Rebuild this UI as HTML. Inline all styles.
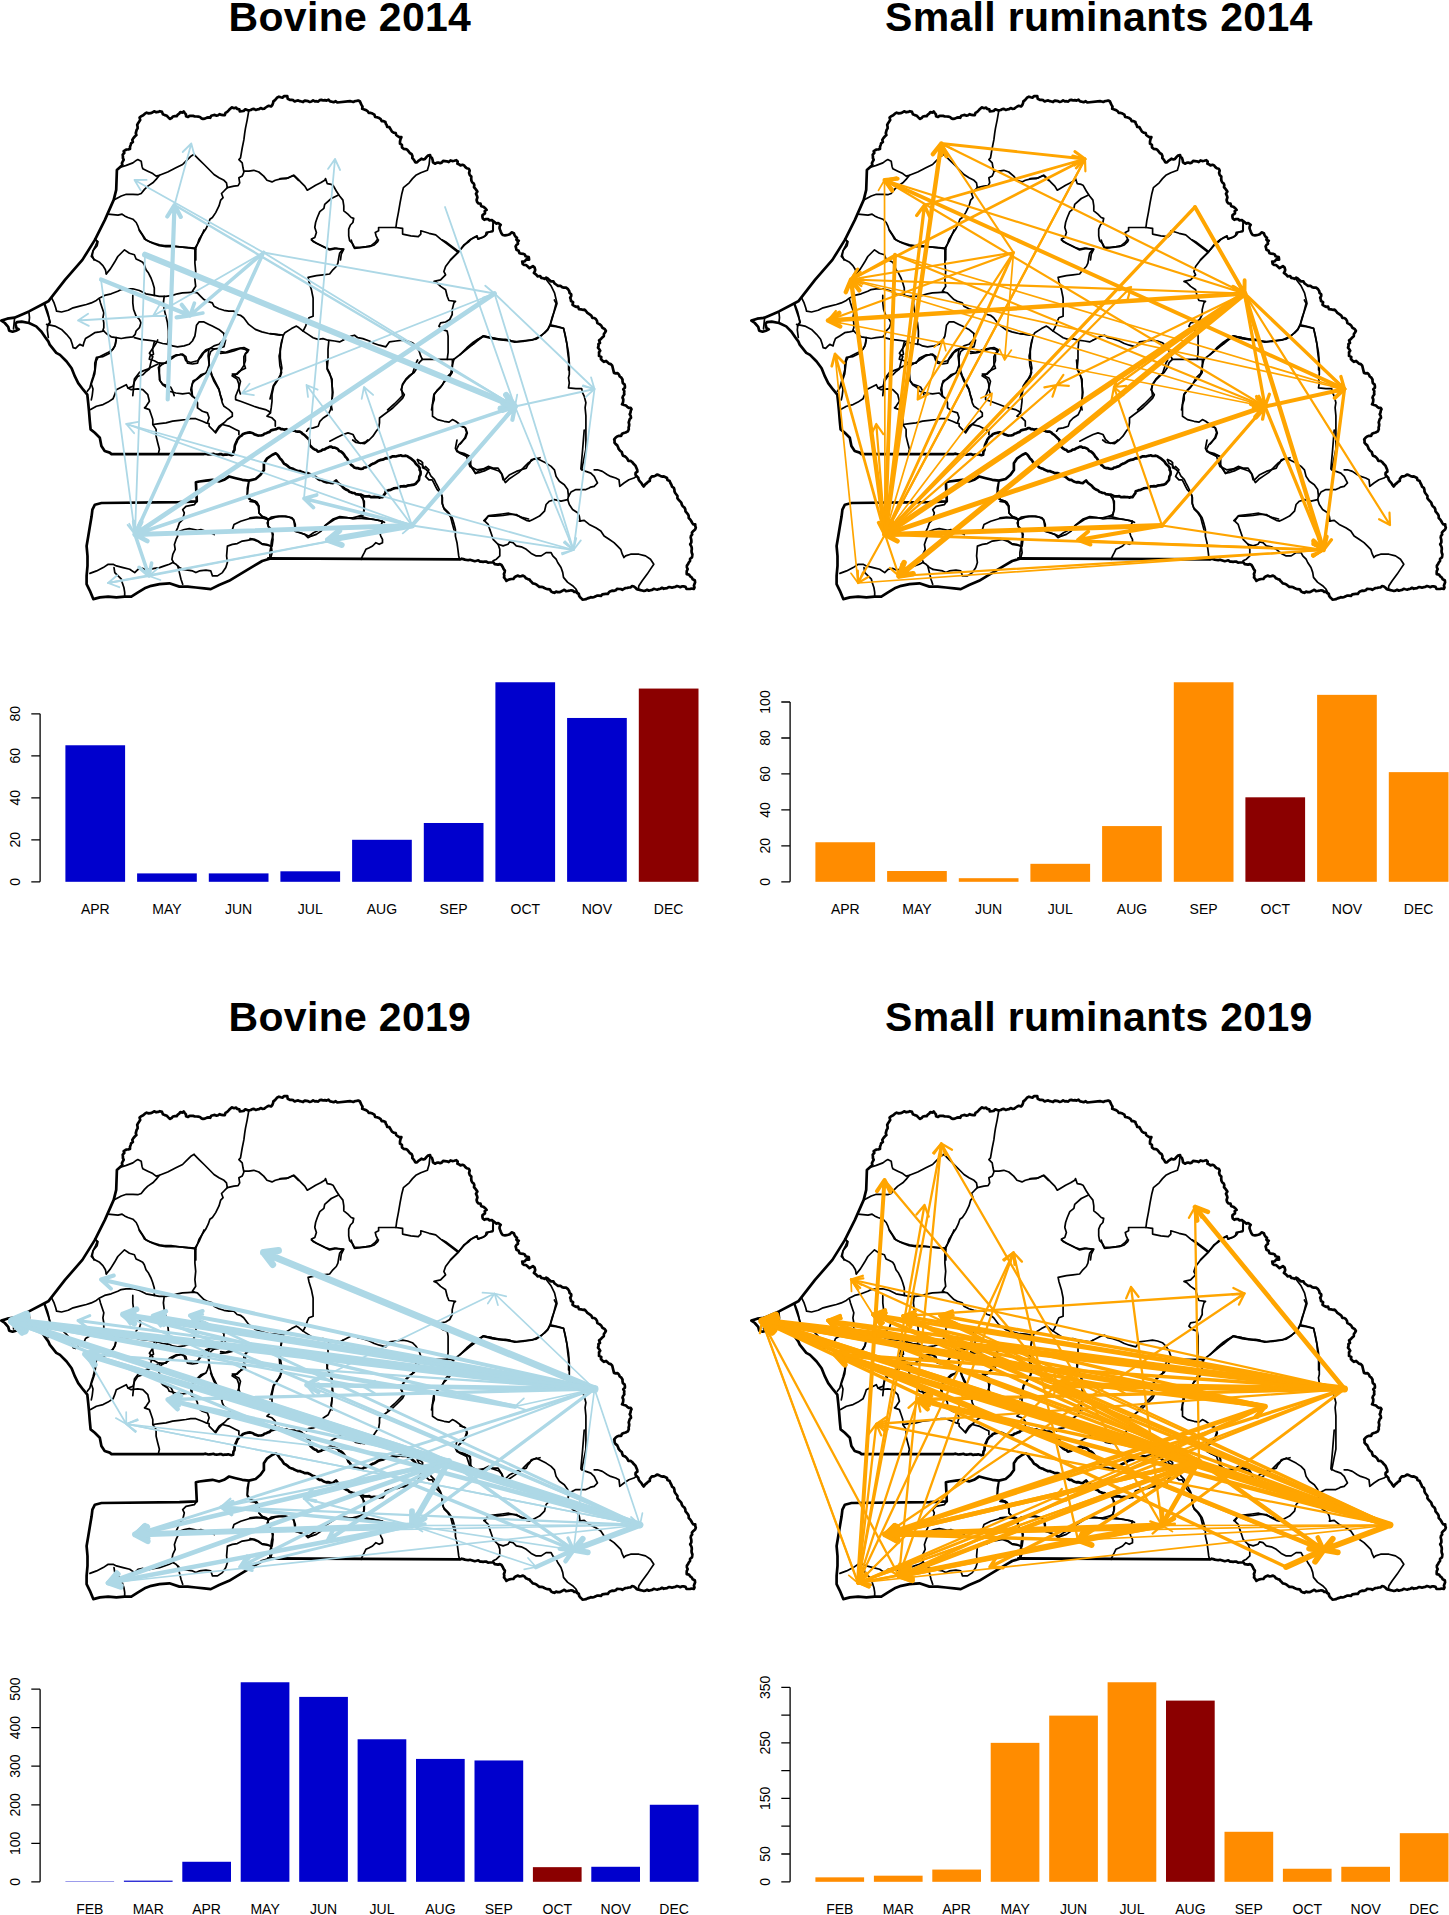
<!DOCTYPE html><html><head><meta charset="utf-8"><title>Senegal livestock movements</title>
<style>html,body{margin:0;padding:0;background:#fff}svg{display:block}text{font-family:"Liberation Sans",sans-serif}</style></head><body>
<svg width="1449" height="1915" viewBox="0 0 1449 1915">
<rect width="1449" height="1915" fill="#fff"/>
<defs><g id="map" fill="none" stroke="#000" stroke-linejoin="round" stroke-linecap="round">
<polyline points="29,312.9 29.5,317.7 29,322.1" stroke-width="1.7"/>
<polyline points="44.4,304.7 47.3,313.4 50.2,322.1 47.8,325 47.3,329.8 48.3,337.5" stroke-width="1.7"/>
<polyline points="14.5,319.2 14,324 13.5,328.8" stroke-width="1.7"/>
<polyline points="248.8,110.7 247.2,119.8 245.5,128.1 244.7,133.1 243.9,139.7 242.2,148 240.5,157.9 238.9,159.6 242.2,162.9 243,167.8 243.9,172 242.2,176.1 238.9,177.8 239.7,182.8 238.1,185.7 233.9,186.1 227.3,187.7" stroke-width="1.7"/>
<polyline points="243.9,171.2 248.8,171.2 253.8,170.3 258.8,172 263.7,176.1 267,180.3 272,181.9 275.3,180.3 281.9,178.6 288.6,177.8 293.5,175.3 298.5,180.3" stroke-width="1.7"/>
<polyline points="194.2,154.6 199.1,159.6 204.1,164.5 209.1,169.5 214,174.5 219,177.8 224,180.3 226.5,182.8 227.3,187.7 224,191 221.5,193.5 223.1,197.7 220.7,200.1 219,205.9 215.7,212.6 212.4,217.5 209.9,219.2 208.2,224.2 205.8,229.1 202.4,234.1 199.1,239.1 197.5,244 195.8,248.2 195.8,259.9" stroke-width="1.7"/>
<polyline points="121.3,167 126.3,165.4 132.9,162.9 136.2,160.4 137.8,159.6 141.2,161.2 142,166.2 142.8,168.7 147.8,171.2 152.8,173.6 156.1,176.1 159.4,175.3 167.7,172 175.9,167.8 182.6,164.5 185.9,161.2 190.8,156.3 194.2,154.3" stroke-width="1.7"/>
<polyline points="159.4,175.3 156.1,179.4 152.8,182.8 147.8,186.1 144.5,189.4 141.2,193.5 137.8,194.7 132.9,194.3 126.3,194.3 121.3,196 118,197.7 114.7,199.6" stroke-width="1.7"/>
<polyline points="108,214.2 113,214.6 118,215.1 122.1,214.2 124.6,215.9 127.9,217.5 132.9,219.2 136.2,222.5 137.8,225.8 139.5,230.8 142.8,235.8 144.5,239.1 149.4,241.6 154.4,243.2 159.4,244.9 164.3,245.7 171,245.7 177.6,246.5 184.2,247.3 190.8,248.2 195.8,249" stroke-width="1.7"/>
<polyline points="95.6,239.9 97.3,241.6 95.6,245.7 93.1,250.7 92.3,255.6 94,259.9" stroke-width="1.7"/>
<polyline points="280,178.6 286.6,178.6 289.9,177 294.1,175.3 298.2,179.4 301.5,182.8 304.8,186.1 307.3,190.2 311.5,187.7 315.6,185.2 320.6,182.8 324.7,180.3 325.5,178.6 327.2,183.6 331.3,184.4 333,185.2 336.3,191 339.6,196 342.9,200.1 343.8,205.9 343.8,210.9 347.9,214.2 351.2,217.5 353.7,218.4 352.9,222.5 350.4,225 348.7,229.1 348.7,235.8 349.6,240.7 352.9,244 354.5,247.3 359.5,247.3 366.1,246.5 371.1,245.7 375.2,242.4 377.7,239.1 376.1,235.8 375.2,232.4 378.6,230.8 378.6,227.5 386,227.5 395.9,227.5 402.6,228.3 402.6,234.1 410.8,235.8 418.3,236.6 420.8,234.1 420.8,230.8 429.1,233.3 435.7,234.9 440.7,239.1 447.3,244 453.9,249 458.1,252.3 450.6,259.9" stroke-width="1.7"/>
<polyline points="458.1,252.3 463.9,245.7 468.8,240.7 473.8,237.4 477.1,235.8 477.9,239.1 482.1,237.4 485.4,235.8 486.2,232.4 492.8,231.6 492.8,225.8 493.7,220.8" stroke-width="1.7"/>
<polyline points="338,195.2 331.3,198.5 324.7,204.3 323.9,208.4 319.8,211.7 317.3,217.5 315.6,222.5 314.8,227.5 316.4,232.4 314.8,237.4 311.5,239.1 313.1,241.6 318.1,244 324.7,247.3 329.7,249 334.7,248.2 339.6,249 343.8,249 341.3,254 340.5,259.9" stroke-width="1.7"/>
<polyline points="395.9,227.5 396.8,220.8 398.4,212.6 400.1,202.6 401.7,194.3 403.4,187.7 409.2,182.8 412.5,178.6 415.8,175.3 420.8,172.8 427.4,170.3 429.1,164.5 429.9,157.1" stroke-width="1.7"/>
<polyline points="493.2,221.5 493.2,230.6 488.2,232.3 486.6,234.8 483.3,237.3 478.3,238.9 476.6,236.4 470,239.8" stroke-width="1.7"/>
<polyline points="546.2,279.5 551.2,286.1 554.5,292.8 556.1,299.4 557,303.5 554.5,311 552,317.6 550.3,324.2 547.8,329.2 544.5,332.5 541.2,335.8 536.3,339.1 529.6,340 523,340.8 516.4,341.6 511.4,340.8 504.8,340 498.2,338.8 491.5,337.5 486.6,336.6 483.3,335.8 479.9,338.3 476.6,340.8 473.3,344.1 470,345.8" stroke-width="1.7"/>
<polyline points="550.3,325.9 556.1,326.7 563.6,328.4 565.2,335.8 566.9,344.1 567.7,352.4 568.6,359 568.6,369.9" stroke-width="1.7"/>
<polyline points="94.7,239.1 98,241.6 97.1,245.7 93,250.7 91.3,256.5 94.7,259.8 99.6,262.3 102.9,265.6 105.4,269.8 106.3,273.9" stroke-width="1.7"/>
<polyline points="106.3,273.9 110.4,268.9 114.5,262.3 117.8,256.5 122.8,251.5 124.5,249.9 129.4,253.2 134.4,254.8 136.1,259 139.4,260.6 142.7,262.3 144.3,264.8 146,269.8 148.5,273.1 151,278 152.6,282.2 154.3,288 154.3,295.4" stroke-width="1.7"/>
<polyline points="51.6,297.9 54.1,302.9 55.7,307.8 56.6,311.2 61.5,312 68.2,310.3 73.1,307.8 79.8,306.2 86.4,304.5 91.3,302.9 96.3,300.4 99.6,297.9 104.6,295.4 111.2,293.8 117.8,291.3 121.2,289.6 126.1,288.8 132.8,288.8 139.4,290.5 146,293.8 154.3,295.4 159.3,296.3 165.9,296.3 172.5,295.4 177.5,293.8 182.4,292.9 187.4,292.6 194,292.1 197.3,292.9 200.7,296.3 204,299.6 207.3,301.2 212.3,302.9 213.9,306.2 218.9,308.7 223.9,310.3 228.8,311.2 233.8,311.2 237.1,314.5 240.4,315.3 243.7,317.8 248.7,324.4 255.3,329.4 261.9,331.9 268.6,333.5 275.2,334.3 280,335.2" stroke-width="1.7"/>
<polyline points="132.8,295.4 132.8,302.9 133.6,309.5 136.1,316.1 139.4,319.4 141,322.8 139.4,327.7 136.1,331 135.2,334.3 132.8,336.8 126.1,337.7 121.2,338.5 116.2,337.7 111.2,336.8 106.3,333.5 102.9,330.2 103.8,327.7 103.8,322.8 102.9,317.8 103.8,312.8 102.1,307.8 100.5,302.9 99.6,299.6" stroke-width="1.7"/>
<polyline points="45,304.5 47.5,311.2 49.1,317.8 49.9,322.8 47.5,326.1" stroke-width="1.7"/>
<polyline points="46.6,324.4 54.9,326.1 61.5,329.4 66.5,334.3 70.6,339.3 72.3,344.3 73.1,347.6 75.6,348.4 78.1,345.9 79.8,344.3 83.1,345.9 83.9,342.6 85.5,338.5 89.7,336 94.7,332.7 99.6,331.9 103.8,331" stroke-width="1.7"/>
<polyline points="116.2,337.7 115.4,344.3 112.9,349.3 107.9,352.6 102.9,355.1 98,357.5 96.3,360.8 95.5,367.5 94.7,374.1 93,379.1 91.3,384 93,389 92.2,395.6 91.3,399.9" stroke-width="1.7"/>
<polyline points="134.4,337.7 141,339.3 147.7,340.1 154.3,341 162.6,343.5 169.2,344.3 172.5,345.9 177.5,346.8 184.1,345.9 189.1,344.3 192.4,341 194.9,336 195.7,331 196.5,325.2 199,321.9 204,321.9 208.9,324.4 212.3,326.1 215.6,327.7 218.9,329.4 223.9,333.5" stroke-width="1.7"/>
<polyline points="164.2,296.3 163.4,302.9 164.2,309.5 165.9,316.1 167.5,322.8 168.4,331 168.4,337.7 167.5,344.3" stroke-width="1.7"/>
<polyline points="154.3,341.8 152.6,349.3 153.5,354.2 150.1,355.9 149.3,359.2 154.3,360.8 157.6,362.5 162.6,364.2 165.9,362.5" stroke-width="1.7"/>
<polyline points="162.6,364.2 158.4,367.5 159.3,374.1 160.1,380.7 162.6,384 167.5,385.7 170.8,387.3 172.5,390.7 174.2,395.6" stroke-width="1.7"/>
<polyline points="165.9,362.5 170.8,359.2 175.8,355.9 180.8,354.2 184.1,355.9 185.8,360.8 190.7,362.5 197.3,360.8 200.7,357.5 204,352.6 208.9,349.3 213.9,345.9 218.9,344.3 223.9,339.3 223.9,333.5" stroke-width="1.7"/>
<polyline points="208.9,349.3 208.1,355.9 208.9,362.5 210.6,370.8 212.3,375.8 215.6,382.4 218.9,389 220.5,395.6 222.2,399.9" stroke-width="1.7"/>
<polyline points="220.5,353.4 227.2,352.6 233.8,350.9 240.4,348.4 245.4,349.3 247.9,351.7 245.4,354.2 245.4,360.8 243.7,365.8 240.4,370.8 237.1,374.1 233.8,374.1 232.1,375.8 237.1,379.1 238.8,384 238.8,389 240.4,394" stroke-width="1.7"/>
<polyline points="192.4,395.6 191.6,387.3 193.2,380.7 197.3,379.1 201.5,375.8 204,374.1" stroke-width="1.7"/>
<polyline points="132.8,395.6 134.4,379.1 139.4,372.4 147.7,369.1 154.3,365.8 157.6,364.2" stroke-width="1.7"/>
<polyline points="194.9,248.2 194.9,254.8 194.9,263.1 195.7,271.4 194.9,279.7 195.7,286.3 192.4,291.3 194,292.1" stroke-width="1.7"/>
<polyline points="139.4,230 142.7,235 146,239.9 152.6,243.3 159.3,245.7 165.9,246.6 175.8,246.6 185.8,247.4 194.9,248.2 199,241.6 201.5,235.8 204,230" stroke-width="1.7"/>
<polyline points="116.3,340 114.7,346.6 109.7,353.3 103.1,356.6 96.4,357.4 94.8,363.2 94.8,369.8 93.1,376.4 91.5,381.4 89.8,388 87.3,391.3" stroke-width="1.7"/>
<polyline points="90.6,409.6 96.4,406.3 103.1,404.6 108,402.1 113,398.8 114.7,394.7 116.3,389.7 121.3,387.2 126.3,384.7 127.9,388 132.9,386.4 134.5,381.4 137.8,376.4 142.8,374.8 146.1,371.5 149.4,369 151.1,361.5 152.8,356.6 149.4,353.3 152.8,348.3 156.1,343.3 157.7,340" stroke-width="1.7"/>
<polyline points="127.9,388 131.2,389.7 137.8,388.9 142.8,389.7 147.8,394.7 149.4,401.3 146.1,406.3 144.5,407.9 149.4,409.6 151.1,414.5 152.8,419.5 152.8,424.5 156.1,429.4 156.1,436.1 157.7,442.7 159.4,449.3 158.6,452.6" stroke-width="1.7"/>
<polyline points="152.8,424.5 159.4,423.6 166,422.8 172.6,421.2 179.3,420.3 185.9,419.5 190.8,418.7 195.8,418.7 202.4,421.2 205.8,422.8 209.1,423.6 209.1,426.1 212.4,429.4 215.7,432.8 219,427.8 222.3,424.5 228.9,426.1 235.6,429.4 238.9,431.1 238.9,434.4" stroke-width="1.7"/>
<polyline points="159.4,363.2 159.4,371.5 159.4,379.8 162.7,384.7 167.7,388 169.3,391.3 175.9,393 182.6,393.8 189.2,393 192.5,396.3 195.8,398.8 197.5,402.9 197.5,407.9 202.4,411.2 207.4,412.9 209.1,417.8 207.4,422.8" stroke-width="1.7"/>
<polyline points="159.4,363.2 166,363.2 169.3,358.2 172.6,356.6 175.9,354.9 179.3,354.9 182.6,354.1 185.9,356.6 187.5,363.2 192.5,364 197.5,363.2 199.1,358.2 202.4,353.3 205.8,349.9 210.7,348.3 214,349.1" stroke-width="1.7"/>
<polyline points="214,349.1 219,348.3 224,346.6 225.6,340" stroke-width="1.7"/>
<polyline points="192.5,396.3 190.8,389.7 192.5,383.1 197.5,378.1 200.8,374.8 205.8,373.1 207.4,369.8 209.1,364.8 209.1,356.6 210.7,351.6 214,349.1" stroke-width="1.7"/>
<polyline points="210.7,373.1 214,381.4 219,389.7 220.7,396.3 222.3,402.9 224,406.3 228.9,409.6 232.3,412.9 232.3,416.2 227.3,419.5 224,422.8 219,426.1 215.7,431.1" stroke-width="1.7"/>
<polyline points="220.7,351.6 225.6,352.4 232.3,349.9 238.9,348.3 243.9,347.5 248.8,349.9 245.5,353.3 243.9,356.6 243.9,363.2 245.5,368.2 242.2,369.8 238.9,371.5 235.6,374.8 232.3,374 235.6,376.4 238.9,378.1 240.5,381.4 238.9,388 235.6,396.3 235.6,399.6 240.5,401.3 247.2,403.8 253.8,406.3 258.8,407.9 265.4,409.6 268.7,411.2 270.4,412.9 267,416.2 272,417.8 275.3,421.2 275.3,426.1" stroke-width="1.7"/>
<polyline points="281.9,340 280.3,348.3 280.3,358.2 281.9,368.2 280.3,374.8 277,381.4 273.7,386.4 272,394.7 272,401.3 271.2,407.9 270.4,412.9" stroke-width="1.7"/>
<polyline points="248.8,482.4 248,489.1 247.2,495.7 248.8,499 253.8,500.7 257.1,502.3 258.8,505.6 258.8,509.9" stroke-width="1.7"/>
<polyline points="311.4,240 316.4,243.3 323,246.6 329.6,249.9 336.3,248.3 342.9,249.1 339.6,253.3 338.7,258.2 337.9,263.2 336.3,266.5 332.9,269.8 329.6,274 323,274.8 316.4,275.6 308.1,277.3 308.9,281.4 311.4,289.7 313.1,298 313.1,306.3 313.1,316.2 308.9,317.8 307.3,321.2 305.6,326.1 303.1,331.1 308.1,334.4 313.1,337.7 318,339.4 323,338.6 328,340.2 334.6,341 339.6,341.9 342.9,340.2" stroke-width="1.7"/>
<polyline points="303.1,331.1 299,327.8 296.5,326.1 291.5,328.6 284.9,332.8 283.3,335.2 276.6,334.4 270,333.6" stroke-width="1.7"/>
<polyline points="351.2,240 352.8,245 354.5,248.3 362.8,247.5 369.4,246.6 374.3,245 377.7,241.7 378.5,240" stroke-width="1.7"/>
<polyline points="342.9,340.2 351.2,336.1 354.5,335.2 357.8,337.7 362.8,338.6 369.4,341 374.3,343.5 379.3,345.2 385.9,346.8 389.3,341.9 395.9,341 402.5,340.2 407.5,341 412.4,342.7 415.8,346 419.1,351 420.7,355.9 422.4,359.3 435.6,359.3 453.9,359.3" stroke-width="1.7"/>
<polyline points="453.9,359.3 452.2,365.9 452.2,372.5 448.9,377.5 443.9,382.4 440.6,387.4 437.3,390.7 434,394 433.1,399 432.3,405.6 431.5,409.9" stroke-width="1.7"/>
<polyline points="422.4,359.3 419.1,362.6 417.4,367.5 414.1,372.5 409.1,375.8 405.8,379.1 402.5,384.1 401.7,389.1 402.5,395.7 399.2,399 394.2,404 387.6,409.9" stroke-width="1.7"/>
<polyline points="447.2,359.3 448.1,352.6 448.1,346 448.1,336.1 447.2,331.1 442.3,329.4 438.9,326.1 440.6,322.8 445.6,322 449.7,319.5 452.2,314.5 452.2,309.6 453.9,302.9 455.5,301.3 448.9,300.5 447.2,296.3 445.6,289.7 440.6,286.4 437.3,283.1 434,281.4 440.6,279.8 442.3,278.1 445.6,274.8 443.9,271.5 445.6,266.5 450.5,259.9 458.8,251.6 463.8,245 468.8,241.7 470.4,240" stroke-width="1.7"/>
<polyline points="458.8,251.6 452.2,246.6 445.6,241.7 442.3,240" stroke-width="1.7"/>
<polyline points="453.9,359.3 460.5,354.3 468.8,347.7 477,341 483.7,336.1 491.9,337.7 498.6,339.4 505.2,339.4 510,340.2" stroke-width="1.7"/>
<polyline points="283.3,335.2 281.6,342.7 279.9,352.6 279.1,355.9 279.9,365.9 281.6,372.5 279.9,377.5 276.6,380.8 273.3,385.8 271.7,392.4 270,399" stroke-width="1.7"/>
<polyline points="328.8,341 328,349.3 328,359.3 327.1,369.2 329.6,374.2 332.1,379.1 332.1,385.8 332.9,392.4 332.1,399 331.3,405.6 332.1,409.9" stroke-width="1.7"/>
<polyline points="554.4,300 556.1,303.3 554.4,309.9 552.8,316.6 550.3,324.8 547.8,329.8 544.5,333.1 539.5,336.4 532.9,339.8 522.9,341.4 514.7,342.2 508,340.6 501.4,339.8 493.1,338.9 483.2,336.4 478.2,338.9 473.3,342.2 466.6,348 460,354.7" stroke-width="1.7"/>
<polyline points="550.3,324.8 557.7,326.5 563.5,328.2 565.2,334.8 566.8,343.1 568.5,353 569.3,362.9 569.3,374.5 568.5,377.8 569.3,382.8 568.5,387.8 575.9,388.6 581.7,388.6 582.6,392.8 584.2,396.1 585.9,402.7 585.1,407.7 585.9,415.9 585.9,424.2 585.9,432.5 585.9,442.4 585.9,449.1 584.2,457.3 582.6,465.6 581.7,469.9" stroke-width="1.7"/>
<polyline points="460,425.9 465,427.5 466.6,432.5 465,437.5 461.7,442.4 460,444.1" stroke-width="1.7"/>
<polyline points="417.3,459.9 418.9,463.2 422.3,464.8 423.9,468.2 425.6,466.5 428.9,469.8 427.2,473.1 425.6,476.4 428.9,479.8 432.2,479.8 433.9,483.1 435.5,486.4 437.2,489.7 440.5,493 442.1,496.3 442.1,502.9 443.8,507.9 448.8,512.9 452.1,517.8 453.7,522.8 455.4,529.4 455.4,536.1 457,542.7 457.9,549.3 458.7,555.9 459.5,559.3" stroke-width="1.7"/>
<polyline points="250,501.3 255,502.1 258.3,506.3 259.1,512.9 261.6,516.2 266.6,517.8 268.2,521.2 268.2,526.1 271.5,529.4 273.2,534.4 271.5,541 270.7,547.7 269.9,552.6 269.9,557.6" stroke-width="1.7"/>
<polyline points="250,517.8 256.6,517 263.3,517.8 268.2,519.5 271.5,517 278.2,516.2 286.4,516.2 292.2,517.8 293.9,521.2 294.7,526.1 294.7,531.1 299.7,532.8 304.7,534.4 308,537.7 311.3,536.1 316.3,534.4 321.2,531.1 324.5,526.1 329.5,522.8 334.5,519.5 339.4,517.8 346.1,517.8 352.7,517.8 359.3,516.2 365.9,517.8 372.6,519.5 379.2,520.3 382.5,521.2" stroke-width="1.7"/>
<polyline points="250,538.6 255,539.4 258.3,541 261.6,543.5 266.6,544.3 270.7,546" stroke-width="1.7"/>
<polyline points="382.5,521.2 380.8,526.1 379.2,531.1 380.8,536.1 382.5,539.4 382.5,542.7 379.2,544.3 375.9,542.7 372.6,546 369.3,547.7 365.9,549.3 364.3,552.6 362.6,555.9 361,559.3" stroke-width="1.7"/>
<polyline points="360.1,495 364.3,501.3 364.3,509.6 362.6,514.5 359.3,516.2" stroke-width="1.7"/>
<polyline points="457,440 455.4,448.3 457,451.6 463.7,453.3 470.3,456.6 470.3,464.8 473.6,469.8 475.3,473.1 480.2,472.3 485.2,470.6 490,468.2" stroke-width="1.7"/>
<polyline points="352.7,440 356,442.5 361,443.3 365.9,441.7 367.6,440" stroke-width="1.7"/>
<polyline points="584.2,430 583.4,439.9 582.6,449.9 581.7,459.8 580.9,468.9 585.9,471.4 590.8,473.1 594.2,476.4 595.8,479.7 597.5,483 594.2,486.3 590.8,487.1 589.2,488 585.9,489.6 580.9,489.6 575.9,489.6 571,492.1 568.5,496.3 567.7,499.6 569.3,504.5 572.6,509.5 577.6,512.8 579.3,516.1 580.1,521.1" stroke-width="1.7"/>
<polyline points="594.2,469.8 597.5,469.8 602.4,471.4 607.4,474.7 610.7,476.4 615.7,478 619,479.7 619.8,486.3 624,483 628.9,479.7 633.9,478 636.4,476.4" stroke-width="1.7"/>
<polyline points="536.2,458.2 539.5,459.8 546.1,463.1 551.1,466.4 554.4,469.8 556.1,476.4 559.4,481.3 564.3,484.7 567.7,489.6 568.5,496.3" stroke-width="1.7"/>
<polyline points="567.7,499.6 561,501.2 554.4,499.6 549.4,501.2 546.1,504.5 544.5,511.2 539.5,516.1 532.9,519.4 529.6,521.1 526.3,520.3 521.3,517.8 516.3,514.5 509.7,514.5 503.1,515.3 494.8,516.1 488.2,516.1 484.8,521.1 488.2,524.4 489.8,529.4 491.5,534.3 493.1,539.3 498.1,544.3 499.8,549.3 499.8,555.9 496.4,559.2 493.1,560.8" stroke-width="1.7"/>
<polyline points="536.2,458.2 531.2,459.8 529.6,463.1 527.9,464.8 526.3,468.1 521.3,469.8 516.3,471.4 509.7,474.7 504.7,479.7 503.1,479.7 501.4,473.1 498.1,468.1 493.1,468.1 488.2,466.4 483.2,468.9 476.6,469.8 473.3,468.1 469.9,466.4 466.6,456.5 460,453.2" stroke-width="1.7"/>
<polyline points="579.3,521.1 584.2,520.3 589.2,524.4 595.8,527.7 600.8,531 604.1,536 609.1,539.3 614,542.6 617.3,545.9 620.7,549.3 622.3,554.2 624,557.5 625.6,555.9 630.6,554.2 638.9,554.2 645.5,555.9 650.5,559.2 653.8,564.2 650.5,569.1 647.2,574.1 642.2,580.7 638.9,585.7 638.1,589.8" stroke-width="1.7"/>
<polyline points="498.1,544.3 503.1,545.9 508,544.3 509.7,541.8 513,542.6 516.3,545.9 521.3,546.8 526.3,549.3 531.2,553.4 536.2,555.9 541.2,555.9 546.1,552.6 551.1,552.6 552.8,555.9 556.1,559.2 557.7,562.5 561,567.5 562.7,572.4 563.5,577.4 567.7,582.4 572.6,585.7 575.9,589 579.3,595.6" stroke-width="1.7"/>
<polyline points="89.9,573.4 96.6,570.9 103.2,567.6 108.2,564.3 113.1,564.3 116.4,565.9 123.1,567.6 129.7,569.3 134.7,572.6 138,569.3 142.9,568.4 146.3,570.1 149.6,569.3 154.5,568.4 159.5,567.6 164.5,565.9 169.4,564.3 172.8,562.6 176.1,564.3 179.4,567.6 182.7,569.3" stroke-width="1.7"/>
<polyline points="114,567.6 114.8,572.6 118.1,575.9 121.4,579.2 122.2,582.5 123.9,587.5 124.7,592.4 124.7,596.6" stroke-width="1.7"/>
<polyline points="177.7,565.9 179.4,572.6 181,579.2 182.7,584.2" stroke-width="1.7"/>
<polyline points="182.7,569.3 187.7,570.1 192.6,570.9 195.9,572.6 199.3,570.9 205.9,570.1 210.8,570.9 212.5,575.9 217.5,575.9 222.4,572.6 225.8,567.6 227.4,562.6 226.6,556 227.4,546.1 232.4,544.4 237.3,543.6 242.3,541.1 247.3,540.3 252.3,539.4 257.2,541.1 262.2,544.4 267.2,545.2 271.3,546.1 272.1,552.7 270.5,558.5" stroke-width="1.7"/>
<polyline points="196.8,501.3 194.3,504.7 186,506.3 182.7,509.6 184.3,512.9 183.5,516.3 182.7,519.6 179.4,522.9 177.7,527.8 176.1,531.2 177.7,536.1 176.1,539.4 174.4,544.4 175.2,549.4 172.8,554.3 171.9,559.3 173.6,562.6" stroke-width="1.7"/>
<polyline points="179.4,531.2 184.3,529.5 189.3,528.7 194.3,529.5 197.6,530.3 200.9,529.5 205.9,531.2 210.8,532.8 214.2,534.5" stroke-width="1.7"/>
<polyline points="248.9,480.6 247.3,488.1 247.3,494.7 250.6,499.7 255.6,501.3 258.9,506.3 258.9,512.9 262.2,516.3 268.8,519.6 267.2,522.9 268.8,527.8 272.1,532.8 273,539.4 272.1,546.1" stroke-width="1.7"/>
<polyline points="232.4,529.5 234,524.5 240.7,521.2 248.9,518.7 255.6,517.9 262.2,517.9 268.8,519.6" stroke-width="1.7"/>
<polyline points="268.8,519.6 275.4,517.1 282.1,516.3 288.7,517.1 293.7,519.6 295.3,524.5 295.3,531.2 300.3,532.8 305.3,534.5 308.6,536.1 313.5,532.8 320,529.5" stroke-width="1.7"/>
<polyline points="326.5,360 327.3,368.3 329.8,373.3 331.5,379.9 332.3,388.2 332.3,396.4 331.5,403.1 330.6,409.7 328.2,414.7 323.2,418 319.9,421.3 318.2,426.3 313.3,427.9 308.3,428.7 306.6,431.2" stroke-width="1.7"/>
<polyline points="329.8,441.2 336.4,437.8 343.1,434.5 348,432.9 353,434.5 355.5,439.5 359.6,442.8 364.6,443.6 369.6,439.5 372.9,436.2 376.2,431.2 378.7,427.9 379.5,422.9 379.5,418 386.1,413 392.8,408 397.7,403.1 402.7,398.1 404.3,394.8 401,389.8 402.7,384.8 406,379.9 409.3,376.6 412.6,373.3 414.3,368.3 415.9,363.3 417.6,360" stroke-width="1.7"/>
<polyline points="452.4,360 452.4,366.6 450.7,373.3 445.8,378.2 442.4,384.8 437.5,389.8 434.2,394.8 434.2,399.8 432.5,404.7 432.5,411.3 432.5,416.3 437.5,419.6 444.1,421.3 449.1,422.1 452.4,419.6 455.7,421.3 459,423.8 462.3,426.3 465.6,427.9 467.3,432.9 465.6,437.8 462.3,441.2 459,444.5 456.5,449.4 459,452.8 464,454.4 468.9,456.1 470.6,459.4 470.6,466 473.9,471 475.6,473.5 478.9,471 483.9,469.3 488.8,467.7 493.8,469.3 498.8,471 502.1,474.3 503.7,479.3 505.4,482.6 508.7,479.3 513.7,475.9 518.6,472.6 523.6,467.7 528.6,462.7 533.5,459.4 540,457.7" stroke-width="1.7"/>
<polyline points="417.6,459.4 420.9,461 422.6,462.7 422.6,467.7 425.9,469.3 429.2,472.6 430.8,475.9 434.2,479.3 435.8,482.6 437.5,485.9 439.1,489.2 440.8,492.5 442.4,497.5 442.4,504.1 444.1,509.1 447.4,512.4 450.7,517.3 452.4,524 454,529.9" stroke-width="1.7"/>
<polyline points="362.9,497.5 363.8,504.1 363.8,510.7 362.9,515.7" stroke-width="1.7"/>
<polyline points="324.8,525.6 333.1,519 339.8,516.5 346.4,517.3 353,519 359.6,518.2 366.3,519 372.9,519 379.5,520.7 384.5,522.3" stroke-width="1.7"/>
<polyline points="483.9,520.7 488.8,515.7 495.4,514.9 502.1,514 508.7,513.2 515.3,514.9 521.9,517.3 528.6,519" stroke-width="1.7"/>
<polygon points="1.4,320.6 7.2,318.7 14.5,317.7 29,311.4 48.3,301.3 65,279.9 82.4,259.9 94.9,239.9 104.9,219.9 113.7,199.9 116.2,189.9 116.9,169.9 122.4,164.9 121.9,163.2 122.7,161.5 123.7,159.9 122.9,158.1 122.9,156.3 122.7,154.6 124.3,153 123.7,151.2 125.1,150.3 126.6,149.5 128.4,149.4 130,149 130,146.8 130.6,145.1 131.1,143.4 132.9,142 132.3,139.9 133.4,138.1 134.8,136.5 136.4,135.1 135.8,133.2 136.2,131.6 136.6,130 137.6,128.4 137.6,126.7 137.2,124.9 138.1,123.2 139.2,121.6 140.2,120 139.6,117.6 141.2,116.2 143.2,115.3 144.9,113.7 146.6,112.7 148.7,113.4 150.6,113.2 152.4,112.5 154.1,111.3 156.2,112.3 158.1,111.9 159.9,111.2 162,111.9 162.9,114.2 164.8,115.1 166.9,115.8 168.3,117.4 169.8,118.9 171.6,118.1 172.9,116.5 174.9,116.2 176.7,116.1 177.8,114.6 179.2,113.6 180.3,112.2 182.5,112.6 183.7,111.4 184.6,112.8 185.9,114.3 186.1,116.3 187.9,117 189.6,115.9 191.4,115.9 193.1,115.9 194.9,116.5 196.6,116.5 198.3,116.7 200,117 201.4,118.4 203,118.9 204.9,118.6 206.4,117.9 208.2,117.4 210.2,117.8 211.3,115.7 213.1,115.3 214.8,114.9 216.5,115.7 218.2,115.2 219.8,114.2 221.5,114.9 223.2,115.1 224.8,115.2 225.5,112.9 227.3,111.8 228.7,110.4 230,108.9 231.7,107.4 234.1,108.2 236.1,107.6 237.1,108.9 239.3,109.3 239.8,111.3 241.8,111.2 243.6,111 245.3,109.3 247.3,110.1 249,110.3 250.7,110 252.3,109.1 253.9,108.8 255.7,110 257.3,109.4 259,109.1 260.6,108 262.3,108.8 264.2,108.7 265.7,107.5 267.2,106.5 268.8,105.8 271,106.5 272.3,105 273,103.2 273.4,101.4 275,100.1 276.1,98.8 277.3,97.4 278.9,96.7 280.7,97.3 282.4,97.7 283.9,96.2 285.6,96.2 287.3,96.1 287.7,98.7 289.9,99.9 291.5,99.9 293.2,100.2 294.7,101.5 296.5,100.8 298.2,100.4 299.8,101.2 301.5,101.5 303.1,102.1 304.8,100.6 306.5,100.9 308.1,101.2 309.8,101.9 311.5,101.5 313.1,100.3 314.8,101.3 316.5,101.2 318.2,101.6 319.7,100.1 321.4,99.8 323.1,100.5 324.8,100.1 326.5,100.6 328.5,99.7 330.1,101.4 331.9,101.7 333.6,102.2 335.7,101.2 337.3,102.5 350,101.2 351.7,101.5 353.3,102 355,101.1 356.7,100.9 358.3,100.5 360,101.5 360.6,103.1 361.5,104.9 362.5,106.7 362.2,108.8 364.2,109.5 366,110.1 367.6,111.1 368.7,112.9 370.8,112.9 372.5,113.6 374.4,114.7 375.2,117 377.6,117.4 379.2,118.1 380.7,119.2 381.7,121.1 383.7,121.2 385.4,122 385.8,123.7 386.7,125.1 387.2,126.8 389.4,127.1 390.1,128.6 391.1,130.1 392,131.6 393.6,132.6 395.7,133 396.2,135 397.7,136.1 399.3,137.1 401.4,137.2 400.4,139.5 400,141.6 400,143.7 401.9,144.9 402,147.4 403.6,148.8 405.6,149.1 407.3,149.8 408.6,151.4 409.8,153 411.7,154.2 412.5,156.2 412.3,158.1 413.6,159.4 414.5,160.8 415.2,162.3 417,162.4 418.4,160.9 419.9,159.9 421.4,158.7 423.4,159.5 425,158.9 426.4,157.2 427.9,155.6 430.1,155.1 430.5,156.8 432,158.1 432.6,159.9 433,162.3 435,163.7 436.5,162.9 438.2,162.5 440.1,163.1 441.7,162.6 443.1,160.9 444.9,161.1 446.8,161.3 448.7,162.1 450.5,160.4 452.4,161.1 454.3,160.7 456.3,160.2 457.7,161.5 457.4,163.7 459,164.3 460.5,165.4 462.5,164.8 464.2,165.5 465.4,167.1 466.8,168.3 468.7,168.7 469.7,170.7 469.1,172.9 469.7,175 471.3,176.5 471.2,178.7 471.4,180.7 472.3,182.5 473.8,183.6 474.3,185.2 474,187.3 475.2,188.5 476.2,189.9 477.4,191.6 476,193.8 476.9,195.6 477.4,197.4 476.6,200 477.1,201.8 478.3,203.3 480.5,203.6 481.2,206.2 483.2,206.7 485.1,208.1 486.6,209.9 484.7,211.1 485,213.3 482.5,215.1 482.4,216.7 482.8,218.5 484.3,219.8 486.1,219 488.3,219.2 489.6,220.4 491.9,220 493.2,221.5 494.8,222.3 496.2,223.6 498.2,223 500.7,224.8 499.7,226.4 499.5,228.1 500.1,229.9 500.7,231.5 501.4,233.2 502.7,235 505,235.3 506.5,235.2 508.2,234.8 509.8,234.2 511.6,232.4 513.9,233.2 514.4,234.9 515.4,236.5 517,237.8 516.4,239.7 518.8,240.7 517.6,241.7 518,243.8 516.5,244.8 515.6,246.4 516.1,248 516.4,249.7 518.6,250.7 519.5,253.2 521.3,253.7 523.1,253.8 524.7,254.4 525.6,256.3 527.2,256.7 528.8,257.1 529.1,259.6 526.3,259.4 524.7,261.3 522.2,261.5 522.7,263.9 524.1,265 526,265 527.2,266.1 529.5,268.2 531.3,267.1 532.9,266.1 534.6,267.6 535.2,269.8 534.8,271.3 533.9,272.9 536.2,274.6 537.5,276.3 540.1,276 541.2,277.8 542.9,278.1 544.5,278.9 546.2,277.6 548,278.7 549.4,280.2 551,281.4 553.4,281.4 554.5,283.4 556.1,284.5 558,285.8 560.4,285.8 562.1,287.1 564,287.7 566.1,287.7 568,289.1 569.3,291.2 569.5,292.9 571.2,294.2 571.2,296 570.2,297.7 570.8,299.4 571,301 573.1,302.1 572.5,304.8 574.3,306 576,306.8 578.1,306.7 578.9,309.2 580.9,309.4 582.7,309.8 584.6,309.6 585.9,311 587.4,312.9 589.3,314.2 591.3,315.6 592.4,317.8 594.4,318 595.9,319.1 597,320.9 597.3,323.1 599.4,324.1 601.2,325.5 602.3,327.7 604.5,328.9 605.9,330.8 605,332.5 603.9,334 603.8,336.3 602.1,337.6 600.8,339.1 599.1,340.3 600,342.9 598.4,344.1 598.6,345.8 598,347.6 599.2,349.1 600.2,350.7 599,352.4 599.1,354 599,355.9 601.3,357 600.9,359 602.4,360.7 604,361.8 606.1,360.9 607.5,362.2 608.9,363.6 610.7,364.1 612.1,365.4 612.6,367.2 614,372.9 615.7,373.4 617.6,373.1 619,374.6 619.7,376.5 621.4,377.7 622.5,379.4 622.5,381.3 622.9,383.1 624.5,384.3 624.9,386.1 624.9,387.8 623.3,389.3 624.3,391.1 624.1,392.8 624.3,394.5 623.1,396 622.5,397.6 623.3,399.4 623.2,401.1 622.9,402.7 622,404.3 624,405 625.9,405.5 627.3,406.8 628.8,407.9 630.6,407.8 631.5,409.3 630.7,411 630.5,412.6 629.7,414.3 630.7,415.9 631,417.8 629.7,419.2 629.2,420.8 628.7,422.4 629.2,424.3 629.1,425.9 628.6,427.5 628.8,429.2 627.8,431.4 625.6,432.5 623.8,433 622.1,433.7 621.1,435.8 619,435.8 617.1,436.5 615.5,437.8 614.2,439.4 614.6,440.8 614.5,442.7 615.7,444.1 617.3,445.4 618.1,447.3 618.8,449.2 620.1,450.7 621.8,452 622.3,454.1 623,455.8 624.9,456.4 626.3,457.5 627.4,458.9 628.4,461 630.8,460.9 632.3,462.2 633.8,464.1 635.5,465.7 637.2,469.8 637.4,471.6 635.6,472.9 635.5,474.7 636.8,476.3 638.3,477.7 638.7,479.8 639.9,481.4 641.3,482.9 642.3,484.6 643.7,486.5 645.2,484.4 647.1,482.9 648.2,481.7 649.8,480.9 649.9,478.8 650.9,477.5 652.1,476.3 654,476.4 655.6,475.6 657,474.5 658.8,475.1 660.4,475.9 662,476.6 663.9,476.4 665.5,477.2 667,478 667.5,480.1 669.7,481.1 670.4,483 671.4,484.7 672,486.7 673.8,487.8 674.4,489.6 674.5,491.4 675.2,493 676.4,494.5 677.5,496 677.4,498.1 678.5,499.6 679.9,501.1 681.3,502.6 681.8,504.6 682.8,506.3 684.5,507.6 685.3,509.4 685.5,511.4 686.8,512.9 688,514.3 688.7,516.1 688.7,518.1 690.2,519.5 691.2,521 692.1,522.7 693.2,524.3 695.2,524.4 695.3,526.1 695.8,527.7 695.1,529.4 693.4,530.9 691.9,532.7 692.2,534.4 691,535.9 690.7,537.6 691.2,539.3 691.4,541 691.3,542.6 690.2,544.3 691.1,545.9 691.7,547.5 691.8,549.2 691.5,550.9 691.7,552.6 692.4,554.2 692.2,555.9 691.9,557.5 690.1,558.8 690,561 688.7,562.6 688,564.2 686.9,565.6 686.9,567.5 687.7,569.1 686.8,570.8 686.7,572.4 686.7,574.1 689,574.6 690.2,576.3 691.8,577.5 692.6,579.3 694.8,580.2 695.1,582.4 694.5,584 693.9,585.6 694.5,587.5 693.7,589 691.9,588.5 690.2,588.8 688.6,589 686.5,589 685.5,586.9 683.6,586.4 681.9,586.4 680.3,587.2 678.6,586.6 676.9,586 675.3,586.9 673.7,587.2 672,587.6 670.3,587.2 668.6,587.2 667.1,588.1 665.4,588.3 663.8,588.8 662,587.8 660.4,588.7 658.8,589.1 657.2,589.7 655.4,589.3 653.7,588.8 652.1,589.9 650.5,590.3 648.9,590.7 647.1,589.8 645.5,590.6 643.8,591 642.2,590.5 640.5,590.1 638.9,589.6 636.9,589.2 635.5,587.8 633.9,586.5 632.1,586 630.7,587.4 629,587.5 627.3,587.9 625.5,588 623.9,588.9 622.3,589.8 620.7,589 619,589 617.2,588.8 615.8,590.2 614.2,590.8 612.4,590.6 610.6,591.2 609,592.2 607.8,593.9 605.7,593.9 604,594.1 602.3,594.4 601,596 599.1,595.7 597.4,595.6 595.8,596.2 594.2,597 592.6,597.5 590.7,597.2 589.1,597.9 587.5,598.4 585.9,599.2 584.2,599.5 582.5,599.7 581.5,598.5 580.1,597.3 579.1,595.7 578.8,593.7 577,592.9 575.9,591.5 574.2,592 572.7,590.6 571,590.3 569.3,590.7 567.7,591 566,591.1 564.3,589.8 562.7,590.6 561.1,591.5 559.5,592.2 557.7,592.2 556.1,591.6 554.4,592.8 552.8,592.4 551,591.3 549.9,589.4 547.7,589.2 546.1,588.7 544.4,588 542.9,587.1 541.1,586.9 539.3,586.8 537.8,585.7 536.4,584.5 534.7,583.8 532.8,583.4 531.7,582.1 530.5,581 529.6,579.6 527.8,579.1 526,578.3 524.7,576.7 523,575.6 521.3,576.1 519.6,576.5 518,575.6 516.2,576.3 514.6,577.2 513.4,579 511.3,579 509.6,579.3 507.9,579.9 506.4,580.9 505.3,579 504,577.4 504.3,575.8 503.9,574 504.6,572.4 504.9,570.6 503.7,569.1 503,567.5 501.5,565 499.9,564.1 498.1,564.6 496.4,564.3 494.6,564.1 493.4,562.3 491.5,562.5 489.8,562.5 488.1,562.6 486.5,561.7 484.9,561.5 483.2,561.9 481.5,561.6 479.8,561.6 478.3,560.3 476.6,560.8 474.8,561.2 473.2,560.7 471.6,560.2 470,559.8 468.2,560.2 466.6,560 464.9,559.6 463.3,559.1 461.7,558.7 460,559.4 458.7,559.3 268.2,558.4 270.5,558.5 262.2,561 253.9,565.9 245.6,570.9 237.3,575.9 229.1,580.8 219.1,585 210.8,589.1 204.2,588.3 195.9,587.5 187.7,586.6 179.4,586.6 169.4,583.3 159.5,584.2 151.2,585.8 144.6,588.3 138,592.4 131.3,596.6 124.7,596.6 116.4,597.4 108.2,596.6 99.9,597.4 93.3,599.1 89.9,590.8 86.6,584.2 86.6,575.9 87.5,565.9 87.5,556 86.6,546.1 88.3,536.1 89.9,526.2 91.6,516.3 92.4,509.6 94.9,504.7 101.5,503 179.4,502.2 196.8,501.3 195.9,482.3 199.3,481.5 205.9,480.6 212.5,479.8 219.1,481.5 224.1,479.8 229.1,476.5 235.7,478.2 242.3,479.8 248.9,480.6 255.6,479 260.5,474.8 263.9,469.9 263.9,463.3 267.2,458.3 272.1,455 275.7,453.3 277.5,454.7 278.9,456.6 279.8,458.2 281.1,459.4 282.3,460.8 283.1,462.3 284.1,463.8 285.6,464.4 286.9,465.4 288.2,466.4 289.6,467.6 291.3,468.4 293.2,468.8 294.7,469.8 296.4,470.4 297.9,471.2 299.8,471 301.4,471.7 303,472.3 304.6,473.1 306.3,473.1 308,473.2 309.6,473.9 311.2,474.9 312.8,475.9 314.7,476.3 316.3,477.5 317.8,478.8 319.5,479.8 321.4,479.9 322.9,481 324.5,481.7 326.2,482.3 327.9,482.1 329.5,482.4 331.1,483 332.8,483.1 334.4,481.8 336.1,480.5 337.3,482.1 338.7,483.5 340.3,484.7 341.9,485.8 343,487.4 344.5,488.6 346.1,489.6 347.9,490.2 349.2,491.7 351,492.2 352.7,493 354.5,493 355.9,494.2 357.6,494.4 359.3,494.7 361.1,494.7 362.6,495.4 364.2,496.3 365.9,496.3 367.6,496.3 369.3,496.2 370.9,497.1 372.5,497.1 374.2,496.8 375.9,497.1 377.5,497 379.2,497.6 380.8,497.1 382.5,497.1 384.2,494.7 385.4,493.2 385.7,491.3 387.4,490.7 389.1,490.1 390.8,489.8 392.4,489.1 394,488.3 395.7,488 397.5,487.8 399.1,487.5 400.6,486.4 402.4,486.4 404,486.2 405.7,486.4 407.3,485.7 409,485.4 410.7,485.2 412.4,484.9 414,484.6 415.6,483.8 416.7,482.5 417.9,481.2 419,479.8 419.2,478 419.4,476.4 420.4,474.8 420.6,473.1 420.5,471.4 419.6,469.9 419.8,468.2 418.9,466.7 417.8,465.6 416.6,464.5 415.5,463.3 414.6,461.8 413.3,460.6 412,459.4 410.6,458.3 409,457.4 407.5,456.3 405.7,455.7 404,456 402.4,456 400.7,455.3 399.1,455.7 397.4,456 395.8,456.5 394.1,456.3 392.4,456.4 390.8,457.3 389.2,457.8 387.5,458.3 385.7,458.2 384.2,459 382.6,459.7 380.9,459.9 379.1,460.5 377.4,461.3 375.9,462.4 374.3,463.3 372.5,463.9 370.9,464.7 369.4,466 367.6,466.6 365.9,467.3 364.1,467.5 362.7,468.7 361,469 359.3,468.7 357.7,468.1 356,468.1 354.1,467.4 352.7,465.9 351.1,464.8 349.9,463.2 348.5,461.7 347.8,459.8 346.8,458.1 345.4,456.7 344.3,454.9 342.9,453.1 341.1,451.6 339.2,450.9 337.9,449.2 336.2,448.2 334.5,447.6 332.7,447.6 331.2,446.6 329.4,446.9 327.8,447.7 326.2,448.3 324.7,449.3 322.7,449.6 321.2,450.8 319.6,451.3 317.9,451.7 316.5,450.1 314.6,449.4 312.9,448.3 311.2,446.8 309.7,444.9 309.5,443.3 309.5,441.7 309.5,440 304.3,434.9 302.6,433.9 301.3,432.4 299.4,431.6 297.7,431.6 296,431.5 294.5,430.5 292.8,430.7 291.1,430.6 289.4,430.5 287.8,429.9 286.2,429.2 284.4,429.6 282.8,429.2 281.1,429.1 279.6,428.2 277.9,428.2 276.3,429.1 274.6,429.5 272.9,429.9 271,430.4 269.7,431.9 267.9,432.4 266.2,433.2 264.4,433.7 263,435 261.3,435.3 259.6,435.5 258,435.6 256.3,434.9 254.5,434.4 253,433.2 251.4,432.8 249.7,432.4 248,432.6 246.4,433 244.7,433.4 243,434 241.6,435.6 239.8,436.6 238.5,438.1 237.3,439.7 236.6,441.6 235.9,443.2 235.1,444.8 234.7,446.5 234.6,448.2 234.5,449.9 233.5,451.4 233.3,453.1 233.1,454.8 231.5,455.2 229.8,454.7 228.2,454.3 226.5,454.6 224.8,454.7 223.2,454.9 221.5,454.2 219.9,454.2 218.2,454.5 216.6,454.6 214.9,454.5 213.3,453.8 211.6,454.2 209.9,454.3 208.3,454.5 206.6,454 205,453.7 203.3,454.2 201.7,454.1 200,454 111.5,454.1 109.7,452.6 104.7,451 101.4,446 99.8,437.7 94.8,432.8 90.6,429.4 89.8,421.2 89,411.2 88.2,402.9 87.3,394.7 83.2,389.7 78.2,383.1 74.9,376.4 71.6,368.2 66.6,361.5 60,354.9 56.3,352.9 49.7,344.6 48.3,341.4 45.4,337.5 41.5,331.7 36.2,326.4 29,323 21.7,321.6 16.9,322.1 15.5,324 16.4,327.9 18.8,329.3 15.9,330.7 12.6,331.7 9.2,330.7 8.2,326.9 4.8,323" stroke-width="2.7"/>
</g></defs>
<use href="#map" x="0" y="0"/>
<use href="#map" x="750" y="0"/>
<use href="#map" x="0" y="1000"/>
<use href="#map" x="750" y="1000"/>
<g fill="none" stroke="#add8e6" stroke-linecap="round" stroke-linejoin="round">
<path d="M174.5,205L191.3,143.5M194.4,155.2L191.3,143.5L182.7,152" stroke-width="1.8"/>
<path d="M167.7,399.5L174.5,205M180.8,216.9L174.5,205L167.3,216.5" stroke-width="4.2"/>
<path d="M263.5,252.5L134.5,180M146.6,179.9L134.5,180L140.7,190.4" stroke-width="1.8"/>
<path d="M145,254.7L515,406.5M500.5,408.5L515,406.5L506.1,394.9" stroke-width="6"/>
<path d="M101,279.5L190,315.5M176.6,317.4L190,315.5L181.7,304.8" stroke-width="4.2"/>
<path d="M263.5,252.5L190,315.5M194.4,303.1L190,315.5L202.9,313.1" stroke-width="3.6"/>
<path d="M263.5,252.5L135,534.5M133.7,521.4L135,534.5L145.7,526.9" stroke-width="3.6"/>
<path d="M263.5,252.5L494.5,293.5M483.1,297.6L494.5,293.5L485.3,285.7" stroke-width="1.8"/>
<path d="M263.5,252.5L515,406.5M502.9,406.2L515,406.5L509.2,395.9" stroke-width="1.8"/>
<path d="M174.5,205L515,406.5M502.6,406.4L515,406.5L508.9,395.7" stroke-width="2.4"/>
<path d="M153,316L78,320.5M88.1,313.8L78,320.5L88.8,325.9" stroke-width="1.8"/>
<path d="M494.5,293.5L135,534.5M141.1,522L135,534.5L148.8,533.6" stroke-width="4.8"/>
<path d="M445,207L515,406.5M505.8,398.6L515,406.5L517.2,394.6" stroke-width="1.8"/>
<path d="M494.5,293.5L594.5,389M582.8,386.1L594.5,389L591.1,377.4" stroke-width="1.8"/>
<path d="M494.5,293.5L573.5,550M564.6,541.8L573.5,550L576.2,538.2" stroke-width="1.8"/>
<path d="M494.5,293.5L242,393.3M249.5,383.8L242,393.3L253.9,395.1" stroke-width="1.8"/>
<path d="M515,406.5L594.5,389M585.6,397.1L594.5,389L583,385.4" stroke-width="1.8"/>
<path d="M515,406.5L573.5,550M564,542.6L573.5,550L575.1,538" stroke-width="1.8"/>
<path d="M412,525.5L135,534.5M146.8,527.2L135,534.5L147.2,541" stroke-width="4.8"/>
<path d="M412,525.5L328,540M339.2,530.7L328,540L341.7,545" stroke-width="6"/>
<path d="M412,525.5L304,498.5M316.7,494.9L304,498.5L313.5,507.6" stroke-width="3.6"/>
<path d="M412,525.5L515,406.5M512.4,419.8L515,406.5L502.2,410.9" stroke-width="4.2"/>
<path d="M412,525.5L573.5,550M562.3,554.4L573.5,550L564.1,542.5" stroke-width="1.8"/>
<path d="M412,525.5L364,387M373.1,394.9L364,387L361.7,398.9" stroke-width="1.8"/>
<path d="M135,534.5L149,576M139.1,567.3L149,576L151.6,563.1" stroke-width="3.6"/>
<path d="M412,525.5L126.3,424M138.2,421.8L126.3,424L134.1,433.2" stroke-width="1.8"/>
<path d="M412,525.5L149,576M158.1,568.1L149,576L160.4,580" stroke-width="1.8"/>
<path d="M149,576L108,583M117.3,575.3L108,583L119.3,587.2" stroke-width="1.8"/>
<path d="M304,498.5L335,159M340.1,170L335,159L328,168.9" stroke-width="1.8"/>
<path d="M126.3,424L573.5,550M561.8,553L573.5,550L565.1,541.3" stroke-width="1.8"/>
<path d="M108,583L412,525.5M402.8,533.4L412,525.5L400.6,521.5" stroke-width="1.8"/>
<path d="M594.5,389L573.5,550M568.9,538.8L573.5,550L580.8,540.4" stroke-width="1.8"/>
<path d="M135,534.5L515,406.5M506.3,416.4L515,406.5L502.1,403.9" stroke-width="3.6"/>
<path d="M101,279.5L135,534.5M127.6,524.9L135,534.5L139.6,523.3" stroke-width="1.8"/>
<path d="M145,254.7L135,534.5M129.3,523.8L135,534.5L141.4,524.3" stroke-width="1.8"/>
<path d="M263.5,252.5L153,316M159.1,305.6L153,316L165.1,316" stroke-width="1.8"/>
<path d="M412,525.5L306.5,385M317.6,389.7L306.5,385L308,397" stroke-width="1.8"/>
</g>
<g fill="none" stroke="#ffa500" stroke-linecap="round" stroke-linejoin="round">
<path d="M885,534.5L941.3,143.5M946.4,156.2L941.3,143.5L932.9,154.2" stroke-width="4.4"/>
<path d="M885,534.5L924.5,205M929.6,216.9L924.5,205L916.7,215.4" stroke-width="3.3"/>
<path d="M895,254.7L885,534.5M878.8,522.7L885,534.5L892.1,523.2" stroke-width="3.9"/>
<path d="M885,534.5L851,279.5M859.3,290.3L851,279.5L845.8,292.1" stroke-width="4.4"/>
<path d="M1244.5,293.5L885,534.5M891.3,521.7L885,534.5L899.3,533.5" stroke-width="5.5"/>
<path d="M885,534.5L1265,406.5M1255.8,417L1265,406.5L1251.3,403.7" stroke-width="5"/>
<path d="M1162,525.5L885,534.5M896.9,527.1L885,534.5L897.3,541.1" stroke-width="5"/>
<path d="M1013.5,252.5L885,534.5M883.8,521.9L885,534.5L895.3,527.2" stroke-width="2.8"/>
<path d="M885,534.5L1085,159M1085.4,171.3L1085,159L1074.5,165.5" stroke-width="2.2"/>
<path d="M1195,207L885,534.5M888,521.9L885,534.5L897.4,530.8" stroke-width="3.3"/>
<path d="M885,534.5L1131,287M1127.8,298.9L1131,287L1119.1,290.2" stroke-width="2.2"/>
<path d="M885,534.5L1056.5,385M1052.5,396.7L1056.5,385L1044.4,387.4" stroke-width="2.2"/>
<path d="M885,534.5L884.5,180M890.5,190.4L884.5,180L878.5,190.4" stroke-width="1.7"/>
<path d="M885,534.5L876.3,424M883.3,434.2L876.3,424L871,435.1" stroke-width="2.2"/>
<path d="M885,534.5L858,583M857.8,570.7L858,583L868.6,576.7" stroke-width="2.2"/>
<path d="M885,534.5L899,576M889.8,567.9L899,576L901.4,563.9" stroke-width="2.2"/>
<path d="M1244.5,293.5L899,576M904.1,562.6L899,576L913.1,573.7" stroke-width="5.5"/>
<path d="M1244.5,293.5L828,320.5M839.3,312.9L828,320.5L840.2,326.5" stroke-width="4.4"/>
<path d="M1244.5,293.5L884.5,180M896.5,177.3L884.5,180L892.8,189.1" stroke-width="2.2"/>
<path d="M1344.5,389L884.5,180M897.7,178.7L884.5,180L892.2,190.8" stroke-width="3.9"/>
<path d="M1244.5,293.5L851,279.5M861.9,273.7L851,279.5L861.4,286" stroke-width="2.2"/>
<path d="M941.3,143.5L1085,159M1073.4,164.1L1085,159L1074.8,151.5" stroke-width="2.8"/>
<path d="M924.5,205L1085,159M1076.2,168.1L1085,159L1072.7,155.9" stroke-width="2.8"/>
<path d="M1085,159L851,279.5M857.8,268.9L851,279.5L863.6,280.1" stroke-width="2.8"/>
<path d="M1195,207L1244.5,293.5M1233,286.8L1244.5,293.5L1244.6,280.2" stroke-width="3.9"/>
<path d="M1244.5,293.5L1344.5,389M1331.9,385.9L1344.5,389L1340.9,376.5" stroke-width="3.3"/>
<path d="M1244.5,293.5L1265,406.5M1256.6,396.6L1265,406.5L1269.4,394.3" stroke-width="3.3"/>
<path d="M1244.5,293.5L1323.5,550M1313.5,540.7L1323.5,550L1326.5,536.7" stroke-width="4.4"/>
<path d="M1244.5,293.5L1390,525M1379.1,519.2L1390,525L1389.5,512.7" stroke-width="2.2"/>
<path d="M1265,406.5L1344.5,389M1334.7,398L1344.5,389L1331.8,385" stroke-width="3.9"/>
<path d="M1162,525.5L1078,540M1088.2,531.5L1078,540L1090.5,544.6" stroke-width="3.9"/>
<path d="M1162,525.5L1323.5,550M1312,554.5L1323.5,550L1313.9,542.3" stroke-width="2.2"/>
<path d="M885,534.5L1323.5,550M1312.3,555.9L1323.5,550L1312.8,543.3" stroke-width="2.8"/>
<path d="M899,576L1323.5,550M1313.2,556.8L1323.5,550L1312.5,544.5" stroke-width="2.2"/>
<path d="M1162,525.5L1265,406.5M1262.6,419.2L1265,406.5L1252.7,410.8" stroke-width="3.3"/>
<path d="M1344.5,389L1323.5,550M1318.5,538L1323.5,550L1331.4,539.7" stroke-width="3.3"/>
<path d="M1013.5,252.5L941.3,143.5M952.3,149L941.3,143.5L942.1,155.8" stroke-width="2.2"/>
<path d="M1013.5,252.5L851,279.5M860.5,271.7L851,279.5L862.5,283.8" stroke-width="2.2"/>
<path d="M1013.5,252.5L828,320.5M835.9,311L828,320.5L840.1,322.6" stroke-width="2.2"/>
<path d="M1013.5,252.5L917.7,399.5M918.4,387.2L917.7,399.5L928.7,393.9" stroke-width="2.2"/>
<path d="M885,534.5L835,354M844,362.9L835,354L831.8,366.2" stroke-width="2.8"/>
<path d="M895,254.7L851,279.5M857.3,268.9L851,279.5L863.3,279.6" stroke-width="2.2"/>
<path d="M895,254.7L1265,406.5M1252.8,408.1L1265,406.5L1257.5,396.8" stroke-width="2.2"/>
<path d="M1244.5,293.5L1056.5,385M1063.4,374.8L1056.5,385L1068.8,385.9" stroke-width="2.2"/>
<path d="M1244.5,293.5L1114,387M1119.1,375.8L1114,387L1126.3,385.8" stroke-width="2.2"/>
<path d="M1013.5,252.5L1004.6,360M999.5,349.2L1004.6,360L1011.4,350.1" stroke-width="1.7"/>
<path d="M851,279.5L1265,406.5M1253.3,409.2L1265,406.5L1256.8,397.7" stroke-width="1.7"/>
<path d="M851,279.5L1344.5,389M1333.1,392.6L1344.5,389L1335.7,380.9" stroke-width="1.7"/>
<path d="M895,254.7L1344.5,389M1332.8,391.8L1344.5,389L1336.3,380.3" stroke-width="1.7"/>
<path d="M828,320.5L1265,406.5M1253.7,410.4L1265,406.5L1256,398.6" stroke-width="1.7"/>
<path d="M941.3,143.5L1244.5,293.5M1232.2,294.3L1244.5,293.5L1237.7,283.2" stroke-width="2.2"/>
<path d="M884.5,180L1265,406.5M1252.7,406.3L1265,406.5L1259,395.7" stroke-width="2.2"/>
<path d="M1085,159L885,534.5M884.6,522.2L885,534.5L895.5,528" stroke-width="2.2"/>
<path d="M1162,525.5L1114,387M1123.3,395.1L1114,387L1111.7,399.1" stroke-width="2.2"/>
<path d="M885,534.5L992,393.3M990.5,405.2L992,393.3L981,398" stroke-width="1.7"/>
<path d="M835,354L858,583M851,573.3L858,583L862.9,572.1" stroke-width="1.7"/>
<path d="M885,534.5L943,339M945.8,350.7L943,339L934.3,347.2" stroke-width="1.7"/>
<path d="M858,583L1323.5,550M1313.6,556.7L1323.5,550L1312.7,544.8" stroke-width="1.7"/>
<path d="M1078,540L1323.5,550M1312.9,555.6L1323.5,550L1313.4,543.6" stroke-width="1.7"/>
<path d="M1265,406.5L1323.5,550M1313.2,542L1323.5,550L1325.3,537.1" stroke-width="3.3"/>
</g>
<g fill="none" stroke="#add8e6" stroke-linecap="round" stroke-linejoin="round">
<path d="M594.5,1389L12,1321M26.5,1314.7L12,1321L24.7,1330.5" stroke-width="8"/>
<path d="M594.5,1389L263.5,1252.5M278.5,1250.5L263.5,1252.5L272.7,1264.5" stroke-width="6.9"/>
<path d="M594.5,1389L101,1279.5M113.8,1275.5L101,1279.5L110.9,1288.6" stroke-width="4"/>
<path d="M594.5,1389L123,1314.5M136.5,1309.3L123,1314.5L134.2,1323.6" stroke-width="5.8"/>
<path d="M594.5,1389L153,1316M165.9,1311.2L153,1316L163.6,1324.7" stroke-width="4.6"/>
<path d="M594.5,1389L190,1315.5M202.6,1311L190,1315.5L200.2,1324.2" stroke-width="4"/>
<path d="M594.5,1389L306.5,1385M318.5,1378.3L306.5,1385L318.3,1392" stroke-width="4.6"/>
<path d="M594.5,1389L364,1387M374.8,1380.9L364,1387L374.7,1393.3" stroke-width="2.3"/>
<path d="M594.5,1389L167.7,1399.5M178.9,1392.7L167.7,1399.5L179.2,1405.8" stroke-width="3.4"/>
<path d="M594.5,1389L494.5,1293.5M506.2,1296.3L494.5,1293.5L497.9,1305.1" stroke-width="1.7"/>
<path d="M594.5,1389L640,1525M631,1517L640,1525L642.4,1513.2" stroke-width="1.7"/>
<path d="M594.5,1389L412,1525.5M417.1,1513.5L412,1525.5L425,1524" stroke-width="3.4"/>
<path d="M594.5,1389L135,1534.5M143.6,1525.1L135,1534.5L147.4,1537.2" stroke-width="2.9"/>
<path d="M594.5,1389L515,1406.5M523.9,1398.4L515,1406.5L526.5,1410.1" stroke-width="1.7"/>
<path d="M594.5,1389L85,1354M96.1,1348.6L85,1354L95.3,1360.9" stroke-width="2.3"/>
<path d="M594.5,1389L78,1320.5M89.8,1315.6L78,1320.5L88.1,1328.3" stroke-width="2.9"/>
<path d="M594.5,1389L304,1498.5M311.8,1488.9L304,1498.5L316.2,1500.5" stroke-width="2.3"/>
<path d="M640,1525L12,1321M26.8,1317.9L12,1321L22.1,1332.3" stroke-width="6.9"/>
<path d="M640,1525L85,1354M99.1,1350.8L85,1354L94.8,1364.6" stroke-width="5.8"/>
<path d="M640,1525L167.7,1399.5M181,1395.9L167.7,1399.5L177.5,1409.2" stroke-width="4.6"/>
<path d="M640,1525L126.3,1424M137.7,1420.1L126.3,1424L135.4,1431.9" stroke-width="1.7"/>
<path d="M640,1525L573.5,1550M582.7,1538.8L573.5,1550L587.8,1552.4" stroke-width="5.8"/>
<path d="M640,1525L412,1525.5M422.4,1519.5L412,1525.5L422.4,1531.5" stroke-width="1.7"/>
<path d="M640,1525L135,1534.5M145.3,1528.3L135,1534.5L145.5,1540.3" stroke-width="1.7"/>
<path d="M640,1525L108,1583M117.7,1575.9L108,1583L119,1587.9" stroke-width="1.7"/>
<path d="M640,1525L306.5,1385M318.8,1383.4L306.5,1385L314,1394.9" stroke-width="2.3"/>
<path d="M640,1525L221,1507M232,1501.3L221,1507L231.4,1513.6" stroke-width="2.3"/>
<path d="M640,1525L190,1315.5M202.7,1314.4L190,1315.5L197.3,1325.9" stroke-width="2.9"/>
<path d="M640,1525L153,1316M165.6,1314.5L153,1316L160.6,1326.2" stroke-width="2.9"/>
<path d="M449,1461L412,1525.5M412,1511.1L412,1525.5L424.5,1518.2" stroke-width="5.8"/>
<path d="M449,1461L135,1534.5M145,1525.1L135,1534.5L148.2,1538.5" stroke-width="4.6"/>
<path d="M449,1461L108,1583M116.9,1572.5L108,1583L121.5,1585.5" stroke-width="4.6"/>
<path d="M449,1461L240,1567M247.1,1556.1L240,1567L253.1,1567.7" stroke-width="3.4"/>
<path d="M449,1461L328,1540M334.1,1528L328,1540L341.4,1539.3" stroke-width="4"/>
<path d="M449,1461L304,1498.5M312.8,1489.8L304,1498.5L315.9,1501.8" stroke-width="2.3"/>
<path d="M449,1461L12,1321M24.8,1318.2L12,1321L20.8,1330.7" stroke-width="3.4"/>
<path d="M449,1461L221,1507M230.3,1498.8L221,1507L232.7,1510.9" stroke-width="2.3"/>
<path d="M449,1461L123,1314.5M135.3,1313.2L123,1314.5L130.2,1324.5" stroke-width="2.3"/>
<path d="M412,1525.5L135,1534.5M147.3,1526.9L135,1534.5L147.7,1541.3" stroke-width="5.8"/>
<path d="M412,1525.5L108,1583M118.4,1574L108,1583L121,1587.5" stroke-width="4.6"/>
<path d="M412,1525.5L221,1507M232.9,1501.6L221,1507L231.6,1514.6" stroke-width="3.4"/>
<path d="M536,1567L573.5,1550M565.5,1561.2L573.5,1550L559.8,1548.7" stroke-width="4.6"/>
<path d="M412,1525.5L304,1498.5M315.9,1495.1L304,1498.5L312.9,1507.1" stroke-width="2.3"/>
<path d="M640,1525L126.3,1424M137.7,1420.1L126.3,1424L135.4,1431.9" stroke-width="1.7"/>
<path d="M306.5,1385L494.5,1293.5M487.8,1303.5L494.5,1293.5L482.5,1292.7" stroke-width="1.7"/>
<path d="M412,1525.5L573.5,1550M562.3,1554.4L573.5,1550L564.1,1542.5" stroke-width="1.7"/>
<path d="M85,1354L126.3,1424M115.8,1418.1L126.3,1424L126.2,1412" stroke-width="1.7"/>
<path d="M449,1461L126.3,1424M137.3,1419.2L126.3,1424L136,1431.2" stroke-width="1.7"/>
<path d="M412,1525.5L240,1567M249.2,1558.2L240,1567L252.2,1570.6" stroke-width="2.9"/>
<path d="M449,1461L573.5,1550M560.5,1548.7L573.5,1550L568.1,1538.1" stroke-width="3.4"/>
<path d="M594.5,1389L573.5,1550M568.9,1538.9L573.5,1550L580.8,1540.4" stroke-width="1.7"/>
<path d="M412,1525.5L536,1567M524.2,1569.4L536,1567L528,1558" stroke-width="1.7"/>
<path d="M515,1406.5L12,1321M24.9,1316.2L12,1321L22.6,1329.8" stroke-width="4.6"/>
<path d="M573.5,1550L12,1321M24.9,1319.2L12,1321L20,1331.3" stroke-width="3.4"/>
<path d="M449,1461L85,1354M98.4,1350.8L85,1354L94.5,1364" stroke-width="4.6"/>
<path d="M449,1461L167.7,1399.5M180.2,1395.5L167.7,1399.5L177.4,1408.3" stroke-width="3.4"/>
<path d="M515,1406.5L123,1314.5M135.5,1310.7L123,1314.5L132.5,1323.4" stroke-width="3.4"/>
<path d="M364,1387L12,1321M23.7,1316.9L12,1321L21.4,1329.1" stroke-width="2.3"/>
</g>
<g fill="none" stroke="#ffa500" stroke-linecap="round" stroke-linejoin="round">
<path d="M1344.5,1389L762,1321M775.9,1315L762,1321L774.1,1330" stroke-width="6.9"/>
<path d="M1344.5,1389L828,1320.5M840.1,1315.5L828,1320.5L838.4,1328.5" stroke-width="3.4"/>
<path d="M1344.5,1389L903,1316M915.2,1311.4L903,1316L913.1,1324.3" stroke-width="3.4"/>
<path d="M1344.5,1389L940,1315.5M952.3,1311.1L940,1315.5L950,1324" stroke-width="3.4"/>
<path d="M1344.5,1389L1056.5,1385M1069.1,1377.9L1056.5,1385L1068.9,1392.4" stroke-width="5.8"/>
<path d="M1344.5,1389L917.7,1399.5M928.9,1392.7L917.7,1399.5L929.2,1405.8" stroke-width="3.4"/>
<path d="M1344.5,1389L873,1314.5M885.2,1309.8L873,1314.5L883.2,1322.7" stroke-width="3.4"/>
<path d="M1344.5,1389L835,1354M846.7,1348.3L835,1354L845.8,1361.3" stroke-width="3.4"/>
<path d="M1344.5,1389L851,1279.5M862.8,1275.8L851,1279.5L860.1,1287.9" stroke-width="2.3"/>
<path d="M1344.5,1389L1195,1207M1207.9,1211.8L1195,1207L1197.2,1220.6" stroke-width="4.6"/>
<path d="M1344.5,1389L885,1534.5M893.8,1524.9L885,1534.5L897.8,1537.3" stroke-width="3.4"/>
<path d="M1344.5,1389L1162,1525.5M1167,1513.8L1162,1525.5L1174.6,1524" stroke-width="2.9"/>
<path d="M1344.5,1389L858,1583M865.9,1573L858,1583L870.6,1584.8" stroke-width="2.9"/>
<path d="M1344.5,1389L876.3,1424M886.5,1417L876.3,1424L887.5,1429.4" stroke-width="2.3"/>
<path d="M1344.5,1389L1114,1387M1124.8,1380.9L1114,1387L1124.7,1393.3" stroke-width="2.3"/>
<path d="M1344.5,1389L1054,1498.5M1061.8,1488.9L1054,1498.5L1066.2,1500.5" stroke-width="2.3"/>
<path d="M1390,1525L762,1321M776.8,1317.9L762,1321L772.1,1332.3" stroke-width="6.9"/>
<path d="M1390,1525L835,1354M849.1,1350.8L835,1354L844.8,1364.6" stroke-width="5.8"/>
<path d="M1390,1525L917.7,1399.5M931,1395.9L917.7,1399.5L927.5,1409.2" stroke-width="4.6"/>
<path d="M1390,1525L828,1320.5M840.9,1318.2L828,1320.5L836.4,1330.5" stroke-width="3.4"/>
<path d="M1390,1525L873,1314.5M885.9,1312.7L873,1314.5L881,1324.8" stroke-width="3.4"/>
<path d="M1390,1525L885,1534.5M895.3,1528.3L885,1534.5L895.5,1540.3" stroke-width="1.7"/>
<path d="M1390,1525L858,1583M867.7,1575.9L858,1583L869,1587.9" stroke-width="1.7"/>
<path d="M1390,1525L1162,1525.5M1172.4,1519.5L1162,1525.5L1172.4,1531.5" stroke-width="1.7"/>
<path d="M1390,1525L1078,1540M1088.1,1533.5L1078,1540L1088.7,1545.5" stroke-width="1.7"/>
<path d="M1390,1525L1323.5,1550M1332.7,1538.8L1323.5,1550L1337.8,1552.4" stroke-width="5.8"/>
<path d="M1390,1525L1056.5,1385M1068.8,1383.4L1056.5,1385L1064,1394.9" stroke-width="2.3"/>
<path d="M1390,1525L876.3,1424M888,1420L876.3,1424L885.6,1432.1" stroke-width="2.3"/>
<path d="M1390,1525L940,1315.5M952.3,1314.4L940,1315.5L947.1,1325.6" stroke-width="2.3"/>
<path d="M1199,1461L762,1321M776.1,1317.9L762,1321L771.7,1331.7" stroke-width="5.8"/>
<path d="M1199,1461L835,1354M848.4,1350.8L835,1354L844.5,1364" stroke-width="4.6"/>
<path d="M1199,1461L885,1534.5M895,1525.1L885,1534.5L898.2,1538.5" stroke-width="4.6"/>
<path d="M1199,1461L858,1583M866,1573.6L858,1583L870.2,1585.2" stroke-width="2.3"/>
<path d="M1199,1461L1162,1525.5M1162,1511.7L1162,1525.5L1173.9,1518.6" stroke-width="4.6"/>
<path d="M1199,1461L1078,1540M1083.9,1528.3L1078,1540L1091.1,1539.3" stroke-width="3.4"/>
<path d="M1199,1461L1195,1207M1201.4,1217.6L1195,1207L1189,1217.8" stroke-width="2.3"/>
<path d="M1199,1461L917.7,1399.5M930.2,1395.5L917.7,1399.5L927.4,1408.3" stroke-width="3.4"/>
<path d="M1199,1461L1056.5,1385M1069.6,1384.6L1056.5,1385L1063.4,1396.1" stroke-width="3.4"/>
<path d="M1199,1461L828,1320.5M840.9,1318.4L828,1320.5L836.3,1330.6" stroke-width="3.4"/>
<path d="M1199,1461L990,1567M997.1,1556.1L990,1567L1003.1,1567.7" stroke-width="3.4"/>
<path d="M1199,1461L899,1576M907.7,1565.3L899,1576L912.6,1578.2" stroke-width="4.6"/>
<path d="M858,1583L884.5,1180M890.4,1192L884.5,1180L877,1191.2" stroke-width="4"/>
<path d="M858,1583L941.3,1143.5M945.4,1155.2L941.3,1143.5L933.2,1152.9" stroke-width="2.3"/>
<path d="M858,1583L924.5,1205M928.7,1216.6L924.5,1205L916.5,1214.5" stroke-width="2.3"/>
<path d="M858,1583L876.3,1424M881.2,1435.4L876.3,1424L868.9,1433.9" stroke-width="2.3"/>
<path d="M858,1583L917.7,1399.5M920.3,1411.6L917.7,1399.5L908.5,1407.8" stroke-width="2.3"/>
<path d="M858,1583L1265,1406.5M1257.6,1416.4L1265,1406.5L1252.7,1405.1" stroke-width="2.3"/>
<path d="M858,1583L1199,1461M1191,1470.4L1199,1461L1186.8,1458.8" stroke-width="2.3"/>
<path d="M858,1583L1162,1525.5M1152.6,1533.6L1162,1525.5L1150.3,1521.4" stroke-width="2.3"/>
<path d="M858,1583L762,1321M771.5,1328.9L762,1321L759.9,1333.2" stroke-width="2.3"/>
<path d="M858,1583L1013.5,1252.5M1014.5,1264.8L1013.5,1252.5L1003.3,1259.6" stroke-width="2.3"/>
<path d="M858,1583L1056.5,1385M1053.3,1397L1056.5,1385L1044.5,1388.2" stroke-width="2.3"/>
<path d="M899,1576L941.3,1143.5M946.4,1154.8L941.3,1143.5L934.1,1153.6" stroke-width="2.3"/>
<path d="M899,1576L1265,1406.5M1257.5,1417.2L1265,1406.5L1252,1405.3" stroke-width="3.4"/>
<path d="M899,1576L1199,1461M1190.8,1471.2L1199,1461L1186.1,1458.9" stroke-width="3.4"/>
<path d="M899,1576L1013.5,1252.5M1015.8,1264.7L1013.5,1252.5L1004.1,1260.5" stroke-width="2.3"/>
<path d="M885,1534.5L1265,1406.5M1255.9,1416.8L1265,1406.5L1251.5,1403.8" stroke-width="4.6"/>
<path d="M885,1534.5L1199,1461M1189,1470.4L1199,1461L1185.8,1457" stroke-width="4.6"/>
<path d="M885,1534.5L1244.5,1293.5M1239,1304.6L1244.5,1293.5L1232.1,1294.3" stroke-width="2.3"/>
<path d="M1162,1525.5L885,1534.5M897.3,1526.9L885,1534.5L897.7,1541.3" stroke-width="5.8"/>
<path d="M1162,1525.5L899,1576M909.4,1567L899,1576L912,1580.5" stroke-width="4.6"/>
<path d="M1162,1525.5L858,1583M867.4,1574.9L858,1583L869.7,1587.1" stroke-width="2.3"/>
<path d="M1162,1525.5L1078,1540M1089.1,1530.8L1078,1540L1091.6,1545" stroke-width="5.8"/>
<path d="M1162,1525.5L1131,1287M1138.5,1296.8L1131,1287L1126.2,1298.4" stroke-width="2.3"/>
<path d="M1286,1567L1323.5,1550M1315.1,1561.7L1323.5,1550L1309.1,1548.6" stroke-width="5.8"/>
<path d="M1078,1540L885,1534.5M896.5,1528.3L885,1534.5L896.1,1541.4" stroke-width="3.4"/>
<path d="M1078,1540L899,1576M909.6,1566.7L899,1576L912.4,1580.5" stroke-width="5.2"/>
<path d="M903,1316L1244.5,1293.5M1234.2,1300.4L1244.5,1293.5L1233.4,1288" stroke-width="2.3"/>
<path d="M873,1314.5L851,1279.5M861.6,1285.1L851,1279.5L851.5,1291.5" stroke-width="1.7"/>
<path d="M762,1321L858,1583M848.8,1575.3L858,1583L860.1,1571.1" stroke-width="1.7"/>
<path d="M762,1321L899,1576M888.5,1569.5L899,1576L899.4,1563.6" stroke-width="2.3"/>
<path d="M884.5,1180L1056.5,1385M1044.9,1380.8L1056.5,1385L1054.4,1372.8" stroke-width="2.3"/>
<path d="M1199,1461L1323.5,1550M1309.8,1548.7L1323.5,1550L1317.8,1537.5" stroke-width="4.6"/>
<path d="M1265,1406.5L762,1321M775.5,1316L762,1321L773.1,1330.2" stroke-width="5.8"/>
<path d="M1323.5,1550L762,1321M775.6,1319.1L762,1321L770.4,1331.9" stroke-width="4.6"/>
<path d="M1114,1387L762,1321M774.3,1316.7L762,1321L771.9,1329.5" stroke-width="3.4"/>
<path d="M1265,1406.5L835,1354M847,1348.9L835,1354L845.4,1361.9" stroke-width="3.4"/>
<path d="M1265,1406.5L828,1320.5M840.4,1316.3L828,1320.5L837.8,1329.1" stroke-width="3.4"/>
<path d="M1199,1461L873,1314.5M886,1313.2L873,1314.5L880.6,1325.1" stroke-width="3.4"/>
<path d="M1390,1525L903,1316M916,1314.5L903,1316L910.8,1326.5" stroke-width="3.4"/>
<path d="M1199,1461L903,1316M916,1315.1L903,1316L910.3,1326.8" stroke-width="3.4"/>
<path d="M1199,1461L940,1315.5M953.1,1315.3L940,1315.5L946.7,1326.7" stroke-width="3.4"/>
<path d="M1265,1406.5L873,1314.5M885.5,1310.7L873,1314.5L882.5,1323.4" stroke-width="3.4"/>
<path d="M1323.5,1550L835,1354M847.9,1352.1L835,1354L843.1,1364.3" stroke-width="3.4"/>
<path d="M1286,1567L762,1321M775,1319.9L762,1321L769.5,1331.7" stroke-width="3.4"/>
<path d="M1390,1525L851,1279.5M863.3,1278.3L851,1279.5L858.2,1289.6" stroke-width="2.3"/>
<path d="M1162,1525.5L941.3,1143.5M952,1149.7L941.3,1143.5L941.3,1155.9" stroke-width="2.3"/>
<path d="M1078,1540L1013.5,1252.5M1021.9,1261.6L1013.5,1252.5L1009.8,1264.3" stroke-width="2.3"/>
</g>
<text x="349.9" y="30.9" font-size="41" font-weight="bold" letter-spacing="0.3" text-anchor="middle" fill="#000">Bovine 2014</text>
<text x="1098.9" y="30.9" font-size="41" font-weight="bold" letter-spacing="0.3" text-anchor="middle" fill="#000">Small ruminants 2014</text>
<text x="349.9" y="1030.9" font-size="41" font-weight="bold" letter-spacing="0.3" text-anchor="middle" fill="#000">Bovine 2019</text>
<text x="1098.9" y="1030.9" font-size="41" font-weight="bold" letter-spacing="0.3" text-anchor="middle" fill="#000">Small ruminants 2019</text>
<rect x="65.4" y="745.27" width="59.7" height="136.53" fill="#0000cd"/>
<text x="95.3" y="913.5" font-size="14" text-anchor="middle" fill="#000">APR</text>
<rect x="137.1" y="873.40" width="59.7" height="8.40" fill="#0000cd"/>
<text x="166.9" y="913.5" font-size="14" text-anchor="middle" fill="#000">MAY</text>
<rect x="208.8" y="873.40" width="59.7" height="8.40" fill="#0000cd"/>
<text x="238.6" y="913.5" font-size="14" text-anchor="middle" fill="#000">JUN</text>
<rect x="280.4" y="871.30" width="59.7" height="10.50" fill="#0000cd"/>
<text x="310.3" y="913.5" font-size="14" text-anchor="middle" fill="#000">JUL</text>
<rect x="352.1" y="839.79" width="59.7" height="42.01" fill="#0000cd"/>
<text x="381.9" y="913.5" font-size="14" text-anchor="middle" fill="#000">AUG</text>
<rect x="423.8" y="822.99" width="59.7" height="58.81" fill="#0000cd"/>
<text x="453.6" y="913.5" font-size="14" text-anchor="middle" fill="#000">SEP</text>
<rect x="495.4" y="682.26" width="59.7" height="199.54" fill="#0000cd"/>
<text x="525.3" y="913.5" font-size="14" text-anchor="middle" fill="#000">OCT</text>
<rect x="567.1" y="717.97" width="59.7" height="163.83" fill="#0000cd"/>
<text x="596.9" y="913.5" font-size="14" text-anchor="middle" fill="#000">NOV</text>
<rect x="638.8" y="688.56" width="59.7" height="193.24" fill="#8b0000"/>
<text x="668.6" y="913.5" font-size="14" text-anchor="middle" fill="#000">DEC</text>
<path d="M40.1,881.8V713.8M31.3,881.8H40.1M31.3,839.8H40.1M31.3,797.8H40.1M31.3,755.8H40.1M31.3,713.8H40.1" stroke="#000" stroke-width="1.3" fill="none"/>
<text transform="translate(20.3,881.8) rotate(-90)" font-size="14" text-anchor="middle" fill="#000">0</text>
<text transform="translate(20.3,839.8) rotate(-90)" font-size="14" text-anchor="middle" fill="#000">20</text>
<text transform="translate(20.3,797.8) rotate(-90)" font-size="14" text-anchor="middle" fill="#000">40</text>
<text transform="translate(20.3,755.8) rotate(-90)" font-size="14" text-anchor="middle" fill="#000">60</text>
<text transform="translate(20.3,713.8) rotate(-90)" font-size="14" text-anchor="middle" fill="#000">80</text>
<rect x="815.4" y="842.25" width="59.7" height="39.55" fill="#ff8c00"/>
<text x="845.3" y="913.5" font-size="14" text-anchor="middle" fill="#000">APR</text>
<rect x="887.1" y="871.01" width="59.7" height="10.79" fill="#ff8c00"/>
<text x="917" y="913.5" font-size="14" text-anchor="middle" fill="#000">MAY</text>
<rect x="958.8" y="878.20" width="59.7" height="3.60" fill="#ff8c00"/>
<text x="988.6" y="913.5" font-size="14" text-anchor="middle" fill="#000">JUN</text>
<rect x="1030.4" y="863.82" width="59.7" height="17.98" fill="#ff8c00"/>
<text x="1060.3" y="913.5" font-size="14" text-anchor="middle" fill="#000">JUL</text>
<rect x="1102.1" y="826.07" width="59.7" height="55.73" fill="#ff8c00"/>
<text x="1132" y="913.5" font-size="14" text-anchor="middle" fill="#000">AUG</text>
<rect x="1173.8" y="682.26" width="59.7" height="199.54" fill="#ff8c00"/>
<text x="1203.6" y="913.5" font-size="14" text-anchor="middle" fill="#000">SEP</text>
<rect x="1245.4" y="797.31" width="59.7" height="84.49" fill="#8b0000"/>
<text x="1275.3" y="913.5" font-size="14" text-anchor="middle" fill="#000">OCT</text>
<rect x="1317.1" y="694.85" width="59.7" height="186.95" fill="#ff8c00"/>
<text x="1347" y="913.5" font-size="14" text-anchor="middle" fill="#000">NOV</text>
<rect x="1388.8" y="772.14" width="59.7" height="109.66" fill="#ff8c00"/>
<text x="1418.6" y="913.5" font-size="14" text-anchor="middle" fill="#000">DEC</text>
<path d="M790.1,881.8V702M781.3,881.8H790.1M781.3,845.8H790.1M781.3,809.9H790.1M781.3,773.9H790.1M781.3,738H790.1M781.3,702H790.1" stroke="#000" stroke-width="1.3" fill="none"/>
<text transform="translate(770.3,881.8) rotate(-90)" font-size="14" text-anchor="middle" fill="#000">0</text>
<text transform="translate(770.3,845.8) rotate(-90)" font-size="14" text-anchor="middle" fill="#000">20</text>
<text transform="translate(770.3,809.9) rotate(-90)" font-size="14" text-anchor="middle" fill="#000">40</text>
<text transform="translate(770.3,773.9) rotate(-90)" font-size="14" text-anchor="middle" fill="#000">60</text>
<text transform="translate(770.3,738) rotate(-90)" font-size="14" text-anchor="middle" fill="#000">80</text>
<text transform="translate(770.3,702) rotate(-90)" font-size="14" text-anchor="middle" fill="#000">100</text>
<rect x="65.4" y="1881.41" width="48.7" height="0.39" fill="#0000cd"/>
<text x="89.8" y="1913.5" font-size="14" text-anchor="middle" fill="#000">FEB</text>
<rect x="123.9" y="1880.64" width="48.7" height="1.16" fill="#0000cd"/>
<text x="148.2" y="1913.5" font-size="14" text-anchor="middle" fill="#000">MAR</text>
<rect x="182.3" y="1861.77" width="48.7" height="20.03" fill="#0000cd"/>
<text x="206.6" y="1913.5" font-size="14" text-anchor="middle" fill="#000">APR</text>
<rect x="240.7" y="1682.26" width="48.7" height="199.54" fill="#0000cd"/>
<text x="265.1" y="1913.5" font-size="14" text-anchor="middle" fill="#000">MAY</text>
<rect x="299.2" y="1696.90" width="48.7" height="184.90" fill="#0000cd"/>
<text x="323.5" y="1913.5" font-size="14" text-anchor="middle" fill="#000">JUN</text>
<rect x="357.6" y="1739.27" width="48.7" height="142.53" fill="#0000cd"/>
<text x="382" y="1913.5" font-size="14" text-anchor="middle" fill="#000">JUL</text>
<rect x="416" y="1758.92" width="48.7" height="122.88" fill="#0000cd"/>
<text x="440.4" y="1913.5" font-size="14" text-anchor="middle" fill="#000">AUG</text>
<rect x="474.5" y="1760.46" width="48.7" height="121.34" fill="#0000cd"/>
<text x="498.8" y="1913.5" font-size="14" text-anchor="middle" fill="#000">SEP</text>
<rect x="532.9" y="1867.16" width="48.7" height="14.64" fill="#8b0000"/>
<text x="557.3" y="1913.5" font-size="14" text-anchor="middle" fill="#000">OCT</text>
<rect x="591.3" y="1866.78" width="48.7" height="15.02" fill="#0000cd"/>
<text x="615.7" y="1913.5" font-size="14" text-anchor="middle" fill="#000">NOV</text>
<rect x="649.8" y="1804.76" width="48.7" height="77.04" fill="#0000cd"/>
<text x="674.1" y="1913.5" font-size="14" text-anchor="middle" fill="#000">DEC</text>
<path d="M40.1,1881.8V1689.2M31.3,1881.8H40.1M31.3,1843.3H40.1M31.3,1804.8H40.1M31.3,1766.2H40.1M31.3,1727.7H40.1M31.3,1689.2H40.1" stroke="#000" stroke-width="1.3" fill="none"/>
<text transform="translate(20.3,1881.8) rotate(-90)" font-size="14" text-anchor="middle" fill="#000">0</text>
<text transform="translate(20.3,1843.3) rotate(-90)" font-size="14" text-anchor="middle" fill="#000">100</text>
<text transform="translate(20.3,1804.8) rotate(-90)" font-size="14" text-anchor="middle" fill="#000">200</text>
<text transform="translate(20.3,1766.2) rotate(-90)" font-size="14" text-anchor="middle" fill="#000">300</text>
<text transform="translate(20.3,1727.7) rotate(-90)" font-size="14" text-anchor="middle" fill="#000">400</text>
<text transform="translate(20.3,1689.2) rotate(-90)" font-size="14" text-anchor="middle" fill="#000">500</text>
<rect x="815.4" y="1877.35" width="48.7" height="4.45" fill="#ff8c00"/>
<text x="839.8" y="1913.5" font-size="14" text-anchor="middle" fill="#000">FEB</text>
<rect x="873.9" y="1875.69" width="48.7" height="6.11" fill="#ff8c00"/>
<text x="898.2" y="1913.5" font-size="14" text-anchor="middle" fill="#000">MAR</text>
<rect x="932.3" y="1869.57" width="48.7" height="12.23" fill="#ff8c00"/>
<text x="956.6" y="1913.5" font-size="14" text-anchor="middle" fill="#000">APR</text>
<rect x="990.7" y="1742.85" width="48.7" height="138.95" fill="#ff8c00"/>
<text x="1015.1" y="1913.5" font-size="14" text-anchor="middle" fill="#000">MAY</text>
<rect x="1049.2" y="1715.61" width="48.7" height="166.19" fill="#ff8c00"/>
<text x="1073.5" y="1913.5" font-size="14" text-anchor="middle" fill="#000">JUN</text>
<rect x="1107.6" y="1682.26" width="48.7" height="199.54" fill="#ff8c00"/>
<text x="1132" y="1913.5" font-size="14" text-anchor="middle" fill="#000">JUL</text>
<rect x="1166" y="1700.60" width="48.7" height="181.20" fill="#8b0000"/>
<text x="1190.4" y="1913.5" font-size="14" text-anchor="middle" fill="#000">AUG</text>
<rect x="1224.5" y="1831.78" width="48.7" height="50.02" fill="#ff8c00"/>
<text x="1248.8" y="1913.5" font-size="14" text-anchor="middle" fill="#000">SEP</text>
<rect x="1282.9" y="1868.74" width="48.7" height="13.06" fill="#ff8c00"/>
<text x="1307.3" y="1913.5" font-size="14" text-anchor="middle" fill="#000">OCT</text>
<rect x="1341.3" y="1866.79" width="48.7" height="15.01" fill="#ff8c00"/>
<text x="1365.7" y="1913.5" font-size="14" text-anchor="middle" fill="#000">NOV</text>
<rect x="1399.8" y="1833.17" width="48.7" height="48.63" fill="#ff8c00"/>
<text x="1424.1" y="1913.5" font-size="14" text-anchor="middle" fill="#000">DEC</text>
<path d="M790.1,1881.8V1687.3M781.3,1881.8H790.1M781.3,1854H790.1M781.3,1826.2H790.1M781.3,1798.4H790.1M781.3,1770.6H790.1M781.3,1742.8H790.1M781.3,1715.1H790.1M781.3,1687.3H790.1" stroke="#000" stroke-width="1.3" fill="none"/>
<text transform="translate(770.3,1881.8) rotate(-90)" font-size="14" text-anchor="middle" fill="#000">0</text>
<text transform="translate(770.3,1854) rotate(-90)" font-size="14" text-anchor="middle" fill="#000">50</text>
<text transform="translate(770.3,1798.4) rotate(-90)" font-size="14" text-anchor="middle" fill="#000">150</text>
<text transform="translate(770.3,1742.8) rotate(-90)" font-size="14" text-anchor="middle" fill="#000">250</text>
<text transform="translate(770.3,1687.3) rotate(-90)" font-size="14" text-anchor="middle" fill="#000">350</text>
</svg></body></html>
